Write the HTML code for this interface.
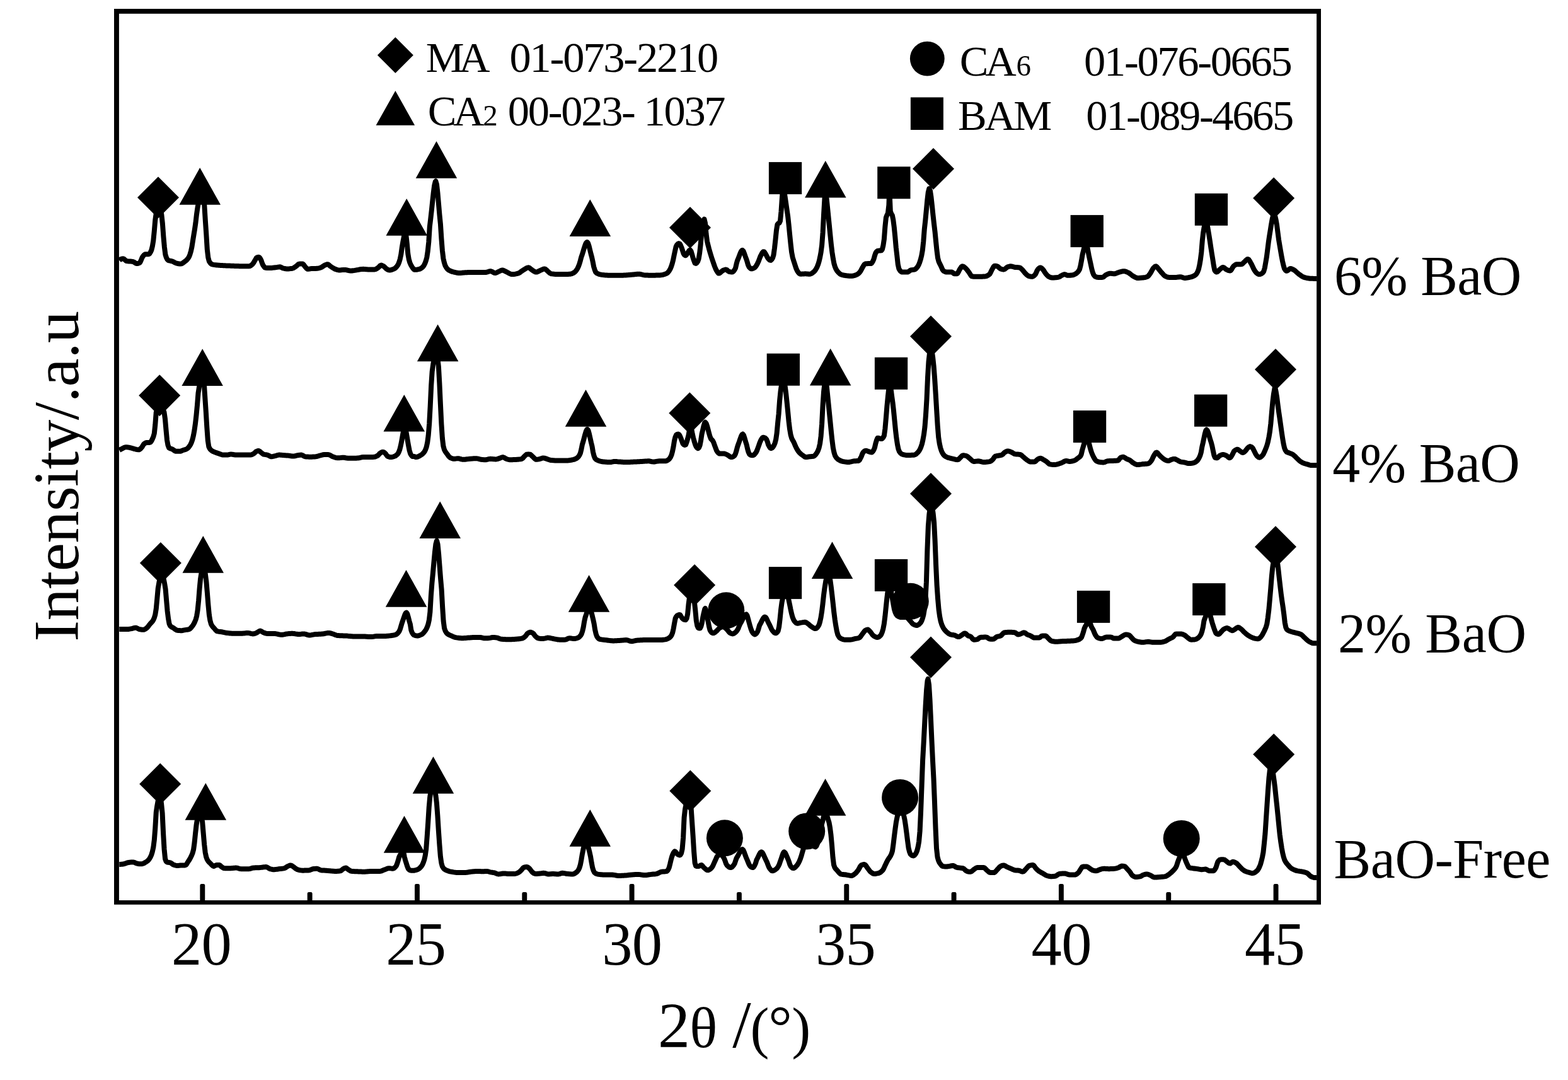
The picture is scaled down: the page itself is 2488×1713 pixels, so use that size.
<!DOCTYPE html>
<html lang="en"><head><meta charset="utf-8"><title>XRD patterns</title>
<style>html,body{margin:0;padding:0;background:#fff}body{width:2488px;height:1713px;overflow:hidden}svg{display:block}</style>
</head><body>
<svg width="2488" height="1713" viewBox="0 0 2488 1713">
<rect x="0" y="0" width="2488" height="1713" fill="#fff"/>
<g fill="none" stroke="#000" stroke-width="8.0" stroke-linejoin="round" stroke-linecap="butt">
<path d="M189.3 413.0L190.8 411.6L192.3 410.8L193.8 410.4L195.3 410.3L196.8 410.8L198.3 412.2L199.8 413.6L201.3 414.1L202.8 414.3L204.3 414.4L205.8 414.5L207.3 414.6L208.8 414.7L210.3 414.9L211.8 415.3L213.3 416.1L214.8 417.2L216.3 418.0L217.8 418.1L219.3 417.8L220.8 417.3L222.3 416.2L223.8 412.9L225.3 409.1L226.8 406.5L228.3 404.7L229.8 403.5L231.3 403.2L232.8 403.2L234.3 403.2L235.8 403.2L237.3 402.4L238.8 400.0L240.3 396.8L241.8 390.8L243.3 381.8L244.8 366.7L246.3 348.9L247.8 338.2L249.3 329.9L250.8 324.6L251.9 323.4L253.4 325.7L254.9 332.0L256.4 341.0L257.9 354.8L259.4 375.2L260.9 391.9L262.4 403.7L263.9 408.5L265.4 411.4L266.9 412.9L268.4 413.4L269.9 413.7L271.4 414.0L272.9 414.3L274.4 414.9L275.9 415.6L277.4 416.5L278.9 417.2L280.4 417.7L281.9 418.0L283.4 418.3L284.9 418.5L286.4 418.5L287.9 418.3L289.4 417.6L290.9 416.6L292.4 415.4L293.9 414.3L295.4 413.1L296.9 411.6L298.4 409.8L299.9 407.4L301.4 403.7L302.9 398.7L304.4 391.8L305.9 382.3L307.4 373.0L308.9 364.0L310.4 353.6L311.9 340.6L313.4 330.1L314.9 321.3L316.4 312.0L317.9 302.6L318.3 299.6L319.8 301.3L321.3 306.4L322.8 314.4L324.3 324.9L325.8 349.4L327.3 371.3L328.8 395.7L330.3 408.6L331.8 414.3L333.3 416.7L334.8 418.3L336.3 419.2L337.8 419.6L339.3 419.9L340.8 420.1L342.3 420.3L343.8 420.5L345.3 420.6L346.8 420.7L348.3 420.8L349.8 420.9L351.3 421.0L352.8 421.1L354.3 421.2L355.8 421.2L357.3 421.3L358.8 421.4L360.3 421.4L361.8 421.5L363.3 421.5L364.8 421.6L366.3 421.7L367.8 421.7L369.3 421.8L370.8 421.8L372.3 421.9L373.8 422.0L375.3 422.0L376.8 422.1L378.3 422.1L379.8 422.2L381.3 422.2L382.8 422.2L384.3 422.3L385.8 422.3L387.3 422.3L388.8 422.3L390.3 422.3L391.8 422.3L393.3 422.3L394.8 422.3L396.3 422.1L397.8 421.4L399.3 420.2L400.8 418.9L402.3 416.9L403.8 414.3L405.3 411.8L406.8 409.1L408.3 408.1L409.8 407.8L411.3 407.9L412.8 409.8L414.3 412.6L415.8 417.0L417.3 420.6L418.8 422.8L420.3 424.4L421.8 424.8L423.3 424.9L424.8 424.9L426.3 425.0L427.8 425.0L429.3 425.0L430.8 424.9L432.3 424.8L433.8 424.6L435.3 424.5L436.8 424.3L438.3 424.1L439.8 423.9L441.3 423.6L442.8 423.4L444.3 423.3L445.8 423.8L447.3 424.6L448.8 425.3L450.3 425.7L451.8 426.0L453.3 426.3L454.8 426.4L456.3 426.4L457.8 426.4L459.3 426.3L460.8 426.1L462.3 426.0L463.8 425.8L465.3 425.3L466.8 424.4L468.3 423.4L469.8 422.3L471.3 421.1L472.8 419.7L474.3 418.7L475.8 418.6L477.3 418.6L478.8 418.6L480.3 418.6L481.8 419.7L483.3 421.9L484.8 423.8L486.3 425.4L487.8 426.7L489.3 426.8L490.8 426.6L492.3 426.3L493.8 426.1L495.3 426.0L496.8 425.9L498.3 425.9L499.8 425.9L501.3 425.9L502.8 425.8L504.3 425.7L505.8 425.4L507.3 425.0L508.8 424.5L510.3 423.9L511.8 422.9L513.3 421.9L514.8 420.9L516.3 420.2L517.8 419.6L519.3 419.2L520.8 419.5L522.3 420.6L523.8 422.0L525.3 423.0L526.8 424.0L528.3 425.0L529.8 425.8L531.3 426.6L532.8 427.1L534.3 427.7L535.8 428.1L537.3 428.4L538.8 428.5L540.3 428.4L541.8 428.2L543.3 428.1L544.8 427.9L546.3 427.9L547.8 427.9L549.3 428.2L550.8 428.5L552.3 428.8L553.8 429.2L555.3 429.4L556.8 429.5L558.3 429.5L559.8 429.3L561.3 429.1L562.8 428.9L564.3 428.6L565.8 428.3L567.3 428.1L568.8 427.8L570.3 427.5L571.8 427.2L573.3 427.0L574.8 426.9L576.3 426.8L577.8 426.9L579.3 427.0L580.8 427.2L582.3 427.3L583.8 427.4L585.3 427.4L586.8 427.5L588.3 427.5L589.8 427.5L591.3 427.5L592.8 427.5L594.3 427.5L595.8 427.1L597.3 426.4L598.8 425.4L600.3 424.4L601.8 422.9L603.3 421.2L604.8 420.6L606.3 421.1L607.8 421.8L609.3 422.7L610.8 424.1L612.3 425.7L613.8 426.8L615.3 427.7L616.8 428.3L618.3 428.5L619.8 428.3L621.3 427.9L622.8 427.4L624.3 426.8L625.8 426.1L627.3 425.1L628.8 423.6L630.3 421.8L631.8 419.5L633.3 415.9L634.8 410.8L636.3 403.6L637.8 392.7L639.3 383.8L640.8 376.2L642.3 365.0L642.8 360.7L644.3 372.8L645.8 386.1L647.3 402.5L648.8 411.4L650.3 416.5L651.8 420.0L653.3 422.6L654.8 424.9L656.3 426.8L657.8 427.8L659.3 427.8L660.8 427.7L662.3 427.5L663.8 427.2L665.3 426.9L666.8 426.4L668.3 425.5L669.8 424.3L671.3 422.8L672.8 420.8L674.3 417.8L675.8 413.7L677.3 408.2L678.8 398.2L680.3 383.6L681.8 359.6L683.3 347.0L684.8 333.6L686.3 319.1L687.8 305.2L689.3 293.9L690.8 288.0L691.4 287.3L692.9 292.3L694.4 305.4L695.9 322.6L697.4 340.1L698.9 355.1L700.4 378.2L701.9 397.4L703.4 409.8L704.9 416.6L706.4 421.2L707.9 423.9L709.4 426.1L710.9 427.6L712.4 428.7L713.9 429.4L715.4 430.1L716.9 430.6L718.4 431.1L719.9 431.5L721.4 431.8L722.9 432.2L724.4 432.5L725.9 432.8L727.4 433.0L728.9 433.0L730.4 433.0L731.9 432.9L733.4 432.7L734.9 432.5L736.4 432.4L737.9 432.3L739.4 432.2L740.9 432.2L742.4 432.1L743.9 432.1L745.4 432.1L746.9 432.1L748.4 432.0L749.9 432.0L751.4 432.0L752.9 432.0L754.4 432.0L755.9 432.0L757.4 432.0L758.9 432.0L760.4 432.0L761.9 432.0L763.4 432.0L764.9 432.0L766.4 432.0L767.9 432.0L769.4 432.0L770.9 432.0L772.4 431.7L773.9 431.2L775.4 430.7L776.9 430.3L778.4 430.1L779.9 430.5L781.4 431.2L782.9 432.1L784.4 432.8L785.9 433.0L787.4 432.7L788.9 432.0L790.4 431.2L791.9 430.5L793.4 429.8L794.9 429.0L796.4 428.5L797.9 428.6L799.4 429.1L800.9 429.8L802.4 430.7L803.9 431.4L805.4 432.1L806.9 433.0L808.4 433.8L809.9 434.5L811.4 435.0L812.9 435.1L814.4 435.0L815.9 434.9L817.4 434.7L818.9 434.4L820.4 434.0L821.9 433.7L823.4 433.1L824.9 432.2L826.4 431.1L827.9 430.0L829.4 428.9L830.9 428.0L832.4 427.1L833.9 426.1L835.4 425.2L836.9 424.6L838.4 424.3L839.9 424.8L841.4 425.9L842.9 427.2L844.4 428.3L845.9 429.3L847.4 430.3L848.9 431.1L850.4 431.6L851.9 431.5L853.4 430.9L854.9 430.1L856.4 429.3L857.9 428.6L859.4 428.0L860.9 427.3L862.4 426.7L863.9 426.4L865.4 426.8L866.9 428.0L868.4 429.6L869.9 430.9L871.4 432.2L872.9 433.5L874.4 434.2L875.9 434.4L877.4 434.6L878.9 434.7L880.4 434.9L881.9 434.9L883.4 435.0L884.9 435.1L886.4 435.1L887.9 435.1L889.4 435.1L890.9 435.1L892.4 435.1L893.9 435.1L895.4 435.0L896.9 435.0L898.4 435.0L899.9 434.9L901.4 434.9L902.9 434.8L904.4 434.7L905.9 434.5L907.4 434.1L908.9 433.4L910.4 432.6L911.9 431.6L913.4 430.2L914.9 428.2L916.4 425.7L917.9 422.6L919.4 418.5L920.9 413.3L922.4 407.6L923.9 403.4L925.4 398.5L926.9 393.5L928.4 388.9L929.9 385.4L931.4 384.0L931.6 384.0L933.1 385.7L934.6 390.3L936.1 396.4L937.6 402.6L939.1 408.1L940.6 415.0L942.1 422.8L943.6 427.7L945.1 431.4L946.6 433.0L948.1 433.9L949.6 434.5L951.1 435.1L952.6 435.4L954.1 435.7L955.6 435.9L957.1 436.1L958.6 436.2L960.1 436.4L961.6 436.5L963.1 436.6L964.6 436.7L966.1 436.7L967.6 436.8L969.1 436.8L970.6 436.8L972.1 436.8L973.6 436.8L975.1 436.8L976.6 436.8L978.1 436.8L979.6 436.8L981.1 436.8L982.6 436.8L984.1 436.8L985.6 436.8L987.1 436.8L988.6 436.7L990.1 436.6L991.6 436.6L993.1 436.5L994.6 436.3L996.1 436.2L997.6 436.1L999.1 436.0L1000.6 435.8L1002.1 435.7L1003.6 435.6L1005.1 435.5L1006.6 435.3L1008.1 435.1L1009.6 435.0L1011.1 434.8L1012.6 434.7L1014.1 434.7L1015.6 434.8L1017.1 435.1L1018.6 435.5L1020.1 435.9L1021.6 436.2L1023.1 436.4L1024.6 436.5L1026.1 436.6L1027.6 436.6L1029.1 436.7L1030.6 436.7L1032.1 436.8L1033.6 436.8L1035.1 436.8L1036.6 436.7L1038.1 436.7L1039.6 436.7L1041.1 436.6L1042.6 436.6L1044.1 436.5L1045.6 436.5L1047.1 436.4L1048.6 436.3L1050.1 436.1L1051.6 435.8L1053.1 435.4L1054.6 435.0L1056.1 434.4L1057.6 433.8L1059.1 432.9L1060.6 431.2L1062.1 429.1L1063.6 426.5L1065.1 422.9L1066.6 418.2L1068.1 412.5L1069.6 405.0L1071.1 398.0L1072.6 391.3L1074.1 388.3L1075.6 386.9L1077.1 386.1L1078.6 386.7L1080.1 389.5L1081.6 393.0L1083.1 397.6L1084.6 402.2L1086.1 404.4L1087.6 405.3L1089.1 404.3L1090.6 402.1L1092.1 399.5L1093.6 397.4L1095.1 396.4L1096.6 398.6L1098.1 403.7L1099.6 409.0L1101.1 413.4L1102.6 417.3L1104.1 418.0L1105.6 416.9L1107.1 414.8L1108.6 410.6L1110.1 401.6L1111.6 388.5L1113.1 371.2L1114.6 357.7L1116.1 350.6L1117.5 347.7L1119.0 354.0L1120.5 370.6L1122.0 382.6L1123.5 388.8L1125.0 394.6L1126.5 399.9L1128.0 404.8L1129.5 409.6L1131.0 414.1L1132.5 418.4L1134.0 422.6L1135.5 426.4L1137.0 429.3L1138.5 431.8L1140.0 433.4L1141.5 433.5L1143.0 432.5L1144.5 431.0L1146.0 429.7L1147.5 428.8L1149.0 428.2L1150.5 427.7L1152.0 427.5L1153.5 428.2L1155.0 429.7L1156.5 430.6L1158.0 431.1L1159.5 431.4L1161.0 431.6L1162.5 431.3L1164.0 430.1L1165.5 428.1L1167.0 425.4L1168.5 418.8L1170.0 413.3L1171.5 409.9L1173.0 405.9L1174.5 401.9L1176.0 398.6L1177.5 396.9L1178.0 396.8L1179.5 398.3L1181.0 402.0L1182.5 406.3L1184.0 410.3L1185.5 414.8L1187.0 420.1L1188.5 423.5L1190.0 425.1L1191.5 426.2L1193.0 426.4L1194.5 426.0L1196.0 425.3L1197.5 424.5L1199.0 423.0L1200.5 420.6L1202.0 417.8L1203.5 414.6L1205.0 410.6L1206.5 406.7L1208.0 403.8L1209.5 401.0L1211.0 399.2L1212.5 399.2L1214.0 401.4L1215.5 404.0L1217.0 406.9L1218.5 409.7L1220.0 411.4L1221.5 412.6L1223.0 412.9L1224.5 411.6L1226.0 409.2L1227.5 404.4L1229.0 393.5L1230.5 379.9L1232.0 365.2L1233.5 356.0L1235.0 354.2L1236.5 353.7L1238.0 350.6L1239.5 335.3L1241.0 313.1L1242.5 293.6L1242.6 292.3L1244.1 301.9L1245.6 311.8L1247.1 322.0L1248.6 332.6L1250.1 342.8L1251.6 356.6L1253.1 372.1L1254.6 387.0L1256.1 400.0L1257.6 407.8L1259.1 413.0L1260.6 417.5L1262.1 422.2L1263.6 426.6L1265.1 429.7L1266.6 431.9L1268.1 433.7L1269.6 434.6L1271.1 434.7L1272.6 434.6L1274.1 434.5L1275.6 434.4L1277.1 434.3L1278.6 434.3L1280.1 434.4L1281.6 434.5L1283.1 434.7L1284.6 434.7L1286.1 434.5L1287.6 433.8L1289.1 432.8L1290.6 431.7L1292.1 430.4L1293.6 428.6L1295.1 426.2L1296.6 423.3L1298.1 419.6L1299.6 414.6L1301.1 408.3L1302.6 400.3L1304.1 389.0L1305.6 369.0L1307.1 339.3L1308.6 313.3L1309.9 298.5L1311.4 313.2L1312.9 328.0L1314.4 343.0L1315.9 358.0L1317.4 373.2L1318.9 387.9L1320.4 400.3L1321.9 410.1L1323.4 418.0L1324.9 423.0L1326.4 426.6L1327.9 429.2L1329.4 431.1L1330.9 432.7L1332.4 434.1L1333.9 435.1L1335.4 435.7L1336.9 436.2L1338.4 436.5L1339.9 436.8L1341.4 437.0L1342.9 437.2L1344.4 437.4L1345.9 437.5L1347.4 437.7L1348.9 437.8L1350.4 437.8L1351.9 437.8L1353.4 437.6L1354.9 437.2L1356.4 436.8L1357.9 436.2L1359.4 435.6L1360.9 434.8L1362.4 433.6L1363.9 432.1L1365.4 430.1L1366.9 427.3L1368.4 424.5L1369.9 421.9L1371.4 419.5L1372.9 418.5L1374.4 418.3L1375.9 418.2L1377.4 418.1L1378.9 418.1L1380.4 418.1L1381.9 418.1L1383.4 417.1L1384.9 414.5L1386.4 411.2L1387.9 405.6L1389.4 401.3L1390.9 399.1L1392.4 397.9L1393.9 397.7L1395.4 397.6L1396.9 397.6L1398.4 397.4L1399.9 395.5L1401.4 389.5L1402.9 379.3L1404.4 359.5L1405.9 345.2L1407.4 341.2L1408.9 338.2L1410.4 325.3L1411.3 299.8L1412.8 335.0L1414.3 339.2L1415.8 341.4L1417.3 348.7L1418.8 360.5L1420.3 375.6L1421.8 392.9L1423.3 405.6L1424.8 419.4L1426.3 426.2L1427.8 428.8L1429.3 430.5L1430.8 431.5L1432.3 431.6L1433.8 431.6L1435.3 431.6L1436.8 431.6L1438.3 431.6L1439.8 431.6L1441.3 431.1L1442.8 430.0L1444.3 428.8L1445.8 428.3L1447.3 428.1L1448.8 427.9L1450.3 427.7L1451.8 427.3L1453.3 426.2L1454.8 424.6L1456.3 422.6L1457.8 419.9L1459.3 416.1L1460.8 411.4L1462.3 405.4L1463.8 397.0L1465.3 382.8L1466.8 363.3L1468.3 349.7L1469.8 333.8L1471.3 317.8L1472.8 305.0L1474.3 299.2L1474.5 299.1L1476.0 302.8L1477.5 312.9L1479.0 326.6L1480.5 341.1L1482.0 354.8L1483.5 367.2L1485.0 382.5L1486.5 397.3L1488.0 409.0L1489.5 414.8L1491.0 418.0L1492.5 420.8L1494.0 424.2L1495.5 427.6L1497.0 429.6L1498.5 430.5L1500.0 431.2L1501.5 431.6L1503.0 431.6L1504.5 431.6L1506.0 431.6L1507.5 431.6L1509.0 431.6L1510.5 431.6L1512.0 432.6L1513.5 433.9L1515.0 434.3L1516.5 434.3L1518.0 434.3L1519.5 433.7L1521.0 430.9L1522.5 427.8L1524.0 425.5L1525.5 423.2L1527.0 422.3L1528.5 422.7L1530.0 423.7L1531.5 424.9L1533.0 426.2L1534.5 428.0L1536.0 430.0L1537.5 431.9L1539.0 434.3L1540.5 436.8L1542.0 438.3L1543.5 438.5L1545.0 438.7L1546.5 438.7L1548.0 438.8L1549.5 438.8L1551.0 438.8L1552.5 438.8L1554.0 438.8L1555.5 438.8L1557.0 438.7L1558.5 438.7L1560.0 438.6L1561.5 438.5L1563.0 438.4L1564.5 438.1L1566.0 437.6L1567.5 436.8L1569.0 435.8L1570.5 434.6L1572.0 431.8L1573.5 428.6L1575.0 425.9L1576.5 423.2L1578.0 421.7L1579.5 421.7L1581.0 422.0L1582.5 422.3L1584.0 423.3L1585.5 424.8L1587.0 426.1L1588.5 426.7L1590.0 427.1L1591.5 427.4L1593.0 427.4L1594.5 426.8L1596.0 425.5L1597.5 424.2L1599.0 423.3L1600.5 422.9L1602.0 422.5L1603.5 422.3L1605.0 422.4L1606.5 422.8L1608.0 423.3L1609.5 423.8L1611.0 424.0L1612.5 424.1L1614.0 424.1L1615.5 424.2L1617.0 424.3L1618.5 424.6L1620.0 425.8L1621.5 427.2L1623.0 428.8L1624.5 430.7L1626.0 432.7L1627.5 434.2L1629.0 435.7L1630.5 436.9L1632.0 437.8L1633.5 438.2L1635.0 438.6L1636.5 438.8L1638.0 438.8L1639.5 438.1L1641.0 437.1L1642.5 435.7L1644.0 433.0L1645.5 429.4L1647.0 427.0L1648.5 425.5L1650.0 424.5L1651.5 424.5L1653.0 425.5L1654.5 427.1L1656.0 428.9L1657.5 431.4L1659.0 433.6L1660.5 435.4L1662.0 437.1L1663.5 438.4L1665.0 439.2L1666.5 439.9L1668.0 440.3L1669.5 440.5L1671.0 440.5L1672.5 440.4L1674.0 440.3L1675.5 440.2L1677.0 440.1L1678.5 439.9L1680.0 439.5L1681.5 438.8L1683.0 437.8L1684.5 437.0L1686.0 436.2L1687.5 435.5L1689.0 435.1L1690.5 435.4L1692.0 436.1L1693.5 436.7L1695.0 436.8L1696.5 436.7L1698.0 436.7L1699.5 436.5L1701.0 436.4L1702.5 436.2L1704.0 435.7L1705.5 435.0L1707.0 434.1L1708.5 433.1L1710.0 431.7L1711.5 429.8L1713.0 427.2L1714.5 421.4L1716.0 413.6L1717.5 404.3L1719.0 398.1L1720.5 391.9L1722.0 385.1L1723.3 379.3L1724.8 388.8L1726.3 397.5L1727.8 405.5L1729.3 412.5L1730.8 419.3L1732.3 426.5L1733.8 432.0L1735.3 435.7L1736.8 437.8L1738.3 438.8L1739.8 439.5L1741.3 439.8L1742.8 439.9L1744.3 439.9L1745.8 439.9L1747.3 439.9L1748.8 439.9L1750.3 439.6L1751.8 438.6L1753.3 437.2L1754.8 436.1L1756.3 435.3L1757.8 434.6L1759.3 434.1L1760.8 433.7L1762.3 433.7L1763.8 433.8L1765.3 434.1L1766.8 434.2L1768.3 434.3L1769.8 434.0L1771.3 433.5L1772.8 432.8L1774.3 432.2L1775.8 431.7L1777.3 431.3L1778.8 430.9L1780.3 430.5L1781.8 430.3L1783.3 430.1L1784.8 430.3L1786.3 430.7L1787.8 431.3L1789.3 432.0L1790.8 432.7L1792.3 433.7L1793.8 434.8L1795.3 436.0L1796.8 437.2L1798.3 438.1L1799.8 438.9L1801.3 439.8L1802.8 440.4L1804.3 440.9L1805.8 440.9L1807.3 440.9L1808.8 440.8L1810.3 440.7L1811.8 440.6L1813.3 440.5L1814.8 440.3L1816.3 440.1L1817.8 439.8L1819.3 439.3L1820.8 438.8L1822.3 437.5L1823.8 435.6L1825.3 433.4L1826.8 430.9L1828.3 428.0L1829.8 425.5L1831.3 424.0L1832.8 422.7L1834.3 422.3L1835.8 423.4L1837.3 425.3L1838.8 427.1L1840.3 428.9L1841.8 430.8L1843.3 432.5L1844.8 434.2L1846.3 435.9L1847.8 437.3L1849.3 438.2L1850.8 438.9L1852.3 439.5L1853.8 439.8L1855.3 439.9L1856.8 439.9L1858.3 439.9L1859.8 439.9L1861.3 439.9L1862.8 439.9L1864.3 439.9L1865.8 439.9L1867.3 439.8L1868.8 439.6L1870.3 439.5L1871.8 439.3L1873.3 439.3L1874.8 439.5L1876.3 440.0L1877.8 440.6L1879.3 440.9L1880.8 440.9L1882.3 440.8L1883.8 440.6L1885.3 440.3L1886.8 440.0L1888.3 439.7L1889.8 439.3L1891.3 438.9L1892.8 438.4L1894.3 437.7L1895.8 436.8L1897.3 435.7L1898.8 433.9L1900.3 431.1L1901.8 427.3L1903.3 420.7L1904.8 412.0L1906.3 399.9L1907.8 381.4L1909.3 368.3L1910.8 359.3L1912.3 351.4L1913.8 345.2L1913.8 345.1L1915.3 354.5L1916.8 363.7L1918.3 372.6L1919.8 382.1L1921.3 392.3L1922.8 402.0L1924.3 411.1L1925.8 421.0L1927.3 428.6L1928.8 430.7L1930.3 431.6L1931.8 431.0L1933.3 429.6L1934.8 428.1L1936.3 426.8L1937.8 425.5L1939.3 424.4L1940.8 423.9L1942.3 424.6L1943.8 425.9L1945.3 427.1L1946.8 427.9L1948.3 428.6L1949.8 429.1L1951.3 429.5L1952.8 429.2L1954.3 427.2L1955.8 424.4L1957.3 422.3L1958.8 421.0L1960.3 419.9L1961.8 419.2L1963.3 419.2L1964.8 419.2L1966.3 419.2L1967.8 419.2L1969.3 419.2L1970.8 418.8L1972.3 417.6L1973.8 416.0L1975.3 414.7L1976.8 413.1L1978.3 411.7L1979.8 410.9L1981.3 411.6L1982.8 413.7L1984.3 416.5L1985.8 419.1L1987.3 422.2L1988.8 425.5L1990.3 428.3L1991.8 430.6L1993.3 432.5L1994.8 433.7L1996.3 434.6L1997.8 435.1L1999.3 435.0L2000.8 434.5L2002.3 433.7L2003.8 432.5L2005.3 430.2L2006.8 425.0L2008.3 416.4L2009.8 407.8L2011.3 395.9L2012.8 383.9L2014.3 373.8L2015.8 364.6L2017.3 355.2L2018.8 347.0L2020.3 341.2L2021.5 337.7L2023.0 342.0L2024.5 348.1L2026.0 356.8L2027.5 368.6L2029.0 380.1L2030.5 389.1L2032.0 397.9L2033.5 406.5L2035.0 414.3L2036.5 420.9L2038.0 426.1L2039.5 428.4L2041.0 429.7L2042.5 429.5L2044.0 428.4L2045.5 427.1L2047.0 426.1L2048.5 426.1L2050.0 426.6L2051.5 427.3L2053.0 428.1L2054.5 429.1L2056.0 430.4L2057.5 431.8L2059.0 433.2L2060.5 434.4L2062.0 435.5L2063.5 436.6L2065.0 437.7L2066.5 438.7L2068.0 439.4L2069.5 439.9L2071.0 440.4L2072.5 440.7L2074.0 441.1L2075.5 441.3L2077.0 441.5L2078.5 441.7L2080.0 441.7L2081.5 441.8L2083.0 441.8L2084.5 441.9L2086.0 441.9L2087.5 441.9L2089.0 441.9L2089.1 441.9"/>
<path d="M189.3 713.9L190.8 713.1L192.3 712.3L193.8 711.6L195.3 710.8L196.8 710.0L198.3 709.4L199.8 709.2L201.3 709.3L202.8 709.4L204.3 709.7L205.8 710.0L207.3 710.3L208.8 710.7L210.3 711.2L211.8 711.6L213.3 712.1L214.8 712.4L216.3 712.8L217.8 713.1L219.3 713.3L220.8 713.3L222.3 712.4L223.8 710.9L225.3 709.2L226.8 706.6L228.3 704.3L229.8 703.2L231.3 702.3L232.8 701.9L234.3 701.9L235.8 701.9L237.3 701.9L238.8 701.5L240.3 699.4L241.8 696.4L243.3 692.9L244.8 687.5L246.3 673.5L247.8 653.9L249.3 650.2L250.8 646.9L252.3 641.7L253.8 635.4L254.5 632.0L256.0 638.6L257.5 644.6L259.0 650.0L260.5 654.0L262.0 664.6L263.5 681.8L265.0 697.9L266.5 706.2L268.0 710.2L269.5 711.1L271.0 711.6L272.5 712.0L274.0 712.8L275.5 713.8L277.0 714.9L278.5 715.7L280.0 715.8L281.5 715.8L283.0 715.8L284.5 715.8L286.0 715.8L287.5 715.4L289.0 714.7L290.5 714.0L292.0 713.6L293.5 713.2L295.0 712.7L296.5 712.0L298.0 710.8L299.5 709.2L301.0 707.2L302.5 704.7L304.0 701.3L305.5 696.9L307.0 690.5L308.5 682.3L310.0 671.6L311.5 658.5L313.0 642.7L314.5 623.7L316.0 614.0L317.5 606.0L319.0 598.8L320.5 592.6L320.8 591.6L322.3 596.1L323.8 607.7L325.3 630.4L326.8 653.2L328.3 677.8L329.8 698.7L331.3 708.5L332.8 711.6L334.3 713.5L335.8 714.7L337.3 715.6L338.8 716.4L340.3 717.0L341.8 717.6L343.3 718.1L344.8 718.6L346.3 719.1L347.8 719.6L349.3 720.2L350.8 720.8L352.3 721.3L353.8 721.6L355.3 721.6L356.8 721.6L358.3 721.6L359.8 721.6L361.3 721.5L362.8 721.2L364.3 720.8L365.8 720.6L367.3 720.6L368.8 720.8L370.3 721.0L371.8 721.3L373.3 721.5L374.8 721.6L376.3 721.6L377.8 721.6L379.3 721.6L380.8 721.6L382.3 721.6L383.8 721.6L385.3 721.6L386.8 721.6L388.3 721.6L389.8 721.6L391.3 721.6L392.8 721.6L394.3 721.6L395.8 721.6L397.3 721.6L398.8 721.4L400.3 720.8L401.8 720.0L403.3 719.0L404.8 717.6L406.3 716.2L407.8 715.6L409.3 715.1L410.8 715.1L412.3 716.0L413.8 717.3L415.3 718.5L416.8 719.8L418.3 720.6L419.8 720.9L421.3 721.1L422.8 721.3L424.3 721.6L425.8 722.2L427.3 723.0L428.8 723.9L430.3 724.3L431.8 724.2L433.3 723.9L434.8 723.5L436.3 723.2L437.8 722.8L439.3 722.3L440.8 721.9L442.3 721.6L443.8 721.6L445.3 721.7L446.8 721.8L448.3 721.9L449.8 722.1L451.3 722.2L452.8 722.3L454.3 722.4L455.8 722.5L457.3 722.6L458.8 722.8L460.3 723.0L461.8 723.3L463.3 723.5L464.8 723.6L466.3 723.6L467.8 723.4L469.3 722.9L470.8 722.5L472.3 722.2L473.8 722.0L475.3 721.8L476.8 721.6L478.3 721.6L479.8 722.0L481.3 722.9L482.8 723.8L484.3 724.3L485.8 724.4L487.3 724.5L488.8 724.6L490.3 724.7L491.8 724.7L493.3 724.7L494.8 724.7L496.3 724.6L497.8 724.5L499.3 724.4L500.8 724.3L502.3 724.1L503.8 723.7L505.3 723.2L506.8 722.7L508.3 722.4L509.8 722.0L511.3 721.6L512.8 721.2L514.3 721.0L515.8 721.0L517.3 721.0L518.8 721.0L520.3 721.1L521.8 721.2L523.3 721.7L524.8 722.5L526.3 723.5L527.8 724.3L529.3 724.8L530.8 725.3L532.3 725.8L533.8 726.1L535.3 726.3L536.8 726.3L538.3 726.3L539.8 726.1L541.3 725.9L542.8 725.8L544.3 725.7L545.8 725.8L547.3 726.0L548.8 726.3L550.3 726.6L551.8 726.7L553.3 726.8L554.8 726.8L556.3 726.8L557.8 726.8L559.3 726.8L560.8 726.8L562.3 726.8L563.8 726.8L565.3 726.7L566.8 726.6L568.3 726.5L569.8 726.3L571.3 726.0L572.8 725.6L574.3 725.2L575.8 725.1L577.3 725.1L578.8 725.1L580.3 725.1L581.8 725.1L583.3 725.1L584.8 725.1L586.3 725.1L587.8 725.1L589.3 725.0L590.8 725.0L592.3 724.9L593.8 724.7L595.3 724.5L596.8 723.9L598.3 723.2L599.8 722.3L601.3 720.7L602.8 719.0L604.3 718.0L605.8 717.2L607.3 716.8L608.8 717.2L610.3 718.2L611.8 719.6L613.3 721.8L614.8 723.6L616.3 724.3L617.8 724.8L619.3 725.1L620.8 725.1L622.3 724.9L623.8 724.5L625.3 724.0L626.8 723.4L628.3 722.6L629.8 721.3L631.3 719.7L632.8 717.0L634.3 713.0L635.8 707.0L637.3 699.4L638.8 691.0L640.3 682.7L641.8 674.5L642.2 672.4L643.7 680.9L645.2 689.5L646.7 698.3L648.2 707.1L649.7 714.6L651.2 719.7L652.7 722.2L654.2 723.9L655.7 724.0L657.2 723.9L658.7 724.6L660.2 725.1L661.7 724.9L663.2 724.4L664.7 723.7L666.2 722.8L667.7 722.0L669.2 721.0L670.7 719.7L672.2 718.2L673.7 716.1L675.2 713.1L676.7 708.9L678.2 701.9L679.7 690.5L681.2 672.0L682.7 644.2L684.2 611.8L685.7 589.2L687.2 578.2L688.7 569.3L690.2 561.8L691.4 557.5L692.9 560.7L694.4 569.0L695.9 581.6L697.4 608.5L698.9 641.2L700.4 672.4L701.9 695.1L703.4 707.4L704.9 713.0L706.4 716.0L707.9 718.1L709.4 720.1L710.9 722.3L712.4 724.2L713.9 725.6L715.4 726.4L716.9 727.0L718.4 727.5L719.9 727.8L721.4 727.8L722.9 727.6L724.4 727.4L725.9 727.2L727.4 727.2L728.9 727.5L730.4 727.9L731.9 728.4L733.4 728.7L734.9 728.8L736.4 728.8L737.9 728.7L739.4 728.5L740.9 728.3L742.4 728.1L743.9 727.9L745.4 727.8L746.9 727.7L748.4 727.6L749.9 727.4L751.4 727.3L752.9 727.3L754.4 727.2L755.9 727.2L757.4 727.4L758.9 727.7L760.4 728.1L761.9 728.5L763.4 728.8L764.9 728.9L766.4 729.1L767.9 729.2L769.4 729.3L770.9 729.2L772.4 729.0L773.9 728.6L775.4 728.2L776.9 727.9L778.4 727.8L779.9 727.9L781.4 728.0L782.9 728.2L784.4 728.3L785.9 728.4L787.4 728.4L788.9 728.1L790.4 727.6L791.9 727.1L793.4 726.6L794.9 726.0L796.4 725.4L797.9 725.1L799.4 725.5L800.9 726.4L802.4 727.4L803.9 728.0L805.4 728.5L806.9 728.9L808.4 729.2L809.9 729.3L811.4 729.2L812.9 729.2L814.4 729.1L815.9 729.1L817.4 729.0L818.9 728.9L820.4 728.8L821.9 728.7L823.4 728.6L824.9 728.4L826.4 728.2L827.9 727.8L829.4 726.9L830.9 725.1L832.4 723.5L833.9 722.0L835.4 720.8L836.9 720.6L838.4 720.6L839.9 720.6L841.4 720.8L842.9 721.9L844.4 723.5L845.9 724.9L847.4 726.4L848.9 727.9L850.4 728.8L851.9 728.8L853.4 728.6L854.9 728.3L856.4 728.0L857.9 727.6L859.4 727.0L860.9 726.5L862.4 726.4L863.9 726.6L865.4 727.1L866.9 727.6L868.4 728.1L869.9 728.8L871.4 729.3L872.9 729.8L874.4 730.0L875.9 730.1L877.4 730.2L878.9 730.3L880.4 730.4L881.9 730.4L883.4 730.5L884.9 730.5L886.4 730.5L887.9 730.5L889.4 730.5L890.9 730.5L892.4 730.5L893.9 730.5L895.4 730.5L896.9 730.5L898.4 730.5L899.9 730.5L901.4 730.4L902.9 730.2L904.4 730.0L905.9 729.8L907.4 729.5L908.9 729.2L910.4 728.9L911.9 728.4L913.4 727.7L914.9 726.9L916.4 725.8L917.9 724.2L919.4 722.0L920.9 718.8L922.4 712.7L923.9 705.0L925.4 700.2L926.9 694.6L928.4 688.8L929.9 683.9L931.4 681.1L932.0 680.8L933.5 682.9L935.0 688.4L936.5 695.2L938.0 701.9L939.5 707.9L941.0 717.0L942.5 723.0L944.0 726.8L945.5 728.4L947.0 729.5L948.5 730.2L950.0 730.8L951.5 731.3L953.0 731.7L954.5 732.0L956.0 732.3L957.5 732.5L959.0 732.6L960.5 732.7L962.0 732.8L963.5 732.9L965.0 732.9L966.5 733.0L968.0 733.0L969.5 733.0L971.0 732.7L972.5 732.3L974.0 732.0L975.5 732.0L977.0 732.0L978.5 732.1L980.0 732.3L981.5 732.4L983.0 732.6L984.5 732.6L986.0 732.7L987.5 732.8L989.0 732.9L990.5 732.9L992.0 733.0L993.5 733.0L995.0 733.0L996.5 733.0L998.0 732.9L999.5 732.9L1001.0 732.8L1002.5 732.7L1004.0 732.7L1005.5 732.6L1007.0 732.5L1008.5 732.5L1010.0 732.4L1011.5 732.3L1013.0 732.2L1014.5 732.2L1016.0 732.1L1017.5 732.0L1019.0 731.9L1020.5 731.8L1022.0 731.7L1023.5 731.6L1025.0 731.5L1026.5 731.4L1028.0 731.3L1029.5 731.3L1031.0 731.5L1032.5 731.8L1034.0 732.2L1035.5 732.4L1037.0 732.6L1038.5 732.5L1040.0 732.2L1041.5 731.9L1043.0 731.6L1044.5 731.4L1046.0 731.3L1047.5 731.3L1049.0 731.3L1050.5 731.3L1052.0 731.3L1053.5 731.3L1055.0 731.3L1056.5 731.3L1058.0 730.8L1059.5 729.9L1061.0 728.8L1062.5 727.3L1064.0 725.0L1065.5 721.7L1067.0 716.1L1068.5 708.9L1070.0 699.3L1071.5 693.3L1073.0 689.9L1074.5 688.9L1076.0 688.5L1077.5 689.1L1079.0 691.8L1080.5 695.3L1082.0 699.5L1083.5 703.6L1085.0 705.1L1086.5 705.9L1088.0 705.5L1089.5 701.5L1091.0 696.5L1092.5 690.5L1094.0 681.9L1095.5 670.1L1095.6 669.3L1097.1 679.6L1098.6 687.9L1100.1 694.5L1101.6 700.0L1103.1 704.9L1104.6 708.3L1106.1 710.3L1107.6 711.2L1109.1 709.9L1110.6 706.3L1112.1 698.4L1113.6 688.3L1115.1 682.1L1116.6 675.5L1118.1 670.7L1119.0 669.8L1120.5 671.4L1122.0 675.6L1123.5 681.1L1125.0 686.9L1126.5 692.3L1128.0 695.9L1129.5 697.5L1131.0 699.2L1132.5 702.3L1134.0 706.7L1135.5 710.7L1137.0 714.6L1138.5 717.0L1140.0 718.6L1141.5 719.5L1143.0 719.5L1144.5 719.5L1146.0 719.5L1147.5 719.5L1149.0 719.5L1150.5 719.8L1152.0 720.5L1153.5 721.2L1155.0 722.0L1156.5 723.1L1158.0 724.2L1159.5 725.0L1161.0 725.1L1162.5 724.7L1164.0 723.9L1165.5 722.7L1167.0 719.8L1168.5 715.0L1170.0 709.0L1171.5 704.6L1173.0 700.5L1174.5 696.1L1176.0 692.0L1177.5 689.2L1178.6 688.5L1180.1 690.4L1181.6 695.1L1183.1 700.5L1184.6 705.2L1186.1 711.8L1187.6 717.1L1189.1 720.3L1190.6 721.7L1192.1 722.0L1193.6 722.2L1195.1 722.1L1196.6 721.2L1198.1 719.6L1199.6 717.6L1201.1 714.6L1202.6 710.5L1204.1 706.4L1205.6 702.0L1207.1 698.6L1208.6 696.0L1210.1 694.1L1211.6 693.7L1213.1 694.2L1214.6 695.2L1216.1 696.6L1217.6 700.2L1219.1 705.4L1220.6 708.2L1222.1 710.4L1223.6 711.2L1225.1 710.5L1226.6 708.8L1228.1 706.4L1229.6 703.0L1231.1 697.3L1232.6 687.2L1234.1 670.9L1235.6 656.3L1237.1 635.4L1238.6 620.5L1240.1 609.9L1241.6 601.2L1242.6 596.8L1244.1 603.2L1245.6 612.1L1247.1 623.3L1248.6 637.6L1250.1 652.7L1251.6 668.5L1253.1 680.9L1254.6 689.6L1256.1 694.9L1257.6 698.0L1259.1 700.6L1260.6 703.7L1262.1 707.4L1263.6 710.6L1265.1 713.2L1266.6 715.5L1268.1 717.4L1269.6 719.0L1271.1 720.3L1272.6 721.5L1274.1 722.5L1275.6 723.6L1277.1 724.7L1278.6 725.1L1280.1 725.0L1281.6 724.8L1283.1 724.5L1284.6 724.3L1286.1 724.2L1287.6 724.0L1289.1 723.9L1290.6 723.7L1292.1 723.1L1293.6 721.7L1295.1 719.8L1296.6 717.6L1298.1 714.5L1299.6 710.2L1301.1 703.5L1302.6 691.9L1304.1 672.3L1305.6 642.6L1307.1 620.6L1308.6 607.8L1309.9 594.7L1311.4 609.3L1312.9 624.2L1314.4 639.2L1315.9 654.2L1317.4 669.2L1318.9 684.5L1320.4 698.6L1321.9 710.2L1323.4 717.5L1324.9 722.4L1326.4 725.0L1327.9 726.9L1329.4 728.3L1330.9 729.3L1332.4 730.1L1333.9 730.9L1335.4 731.4L1336.9 731.8L1338.4 732.1L1339.9 732.4L1341.4 732.6L1342.9 732.8L1344.4 732.9L1345.9 733.0L1347.4 733.0L1348.9 732.7L1350.4 732.4L1351.9 732.0L1353.4 731.6L1354.9 731.3L1356.4 731.2L1357.9 731.2L1359.4 731.1L1360.9 731.0L1362.4 730.9L1363.9 729.5L1365.4 726.7L1366.9 723.7L1368.4 719.6L1369.9 717.1L1371.4 715.7L1372.9 714.9L1374.4 714.8L1375.9 715.3L1377.4 715.9L1378.9 716.4L1380.4 716.9L1381.9 717.3L1383.4 717.4L1384.9 716.1L1386.4 713.7L1387.9 710.0L1389.4 703.4L1390.9 698.4L1392.4 694.8L1393.9 694.8L1395.4 695.3L1396.9 695.8L1398.4 696.1L1399.9 695.6L1401.4 693.9L1402.9 690.9L1404.4 680.2L1405.9 662.8L1407.4 644.7L1408.9 629.0L1410.4 615.5L1411.9 603.7L1412.0 603.0L1413.5 615.7L1415.0 627.7L1416.5 638.5L1418.0 651.8L1419.5 667.2L1421.0 682.5L1422.5 695.2L1424.0 705.1L1425.5 712.4L1427.0 716.2L1428.5 718.3L1430.0 719.7L1431.5 720.5L1433.0 721.0L1434.5 721.3L1436.0 721.6L1437.5 721.9L1439.0 722.0L1440.5 722.0L1442.0 722.0L1443.5 722.0L1445.0 721.9L1446.5 721.8L1448.0 721.8L1449.5 721.7L1451.0 721.5L1452.5 720.8L1454.0 719.8L1455.5 718.4L1457.0 716.9L1458.5 714.9L1460.0 712.1L1461.5 708.6L1463.0 704.0L1464.5 697.4L1466.0 688.9L1467.5 677.0L1469.0 657.9L1470.5 633.5L1472.0 598.8L1473.5 573.7L1475.0 560.2L1476.5 551.5L1477.2 550.2L1478.7 556.7L1480.2 567.3L1481.7 581.7L1483.2 601.4L1484.7 625.3L1486.2 650.4L1487.7 675.0L1489.2 693.6L1490.7 703.5L1492.2 710.1L1493.7 714.9L1495.2 718.2L1496.7 720.6L1498.2 722.4L1499.7 723.6L1501.2 724.5L1502.7 725.2L1504.2 725.8L1505.7 726.2L1507.2 726.6L1508.7 727.0L1510.2 727.3L1511.7 727.7L1513.2 728.0L1514.7 728.4L1516.2 728.8L1517.7 729.1L1519.2 729.2L1520.7 728.9L1522.2 727.4L1523.7 725.8L1525.2 724.3L1526.7 722.7L1528.2 722.2L1529.7 722.3L1531.2 722.6L1532.7 722.9L1534.2 723.5L1535.7 724.6L1537.2 725.9L1538.7 727.1L1540.2 728.5L1541.7 730.0L1543.2 731.2L1544.7 731.9L1546.2 731.9L1547.7 731.8L1549.2 731.6L1550.7 731.4L1552.2 731.3L1553.7 731.4L1555.2 731.8L1556.7 732.2L1558.2 732.6L1559.7 732.9L1561.2 733.0L1562.7 732.9L1564.2 732.9L1565.7 732.7L1567.2 732.6L1568.7 732.4L1570.2 732.1L1571.7 731.7L1573.2 730.7L1574.7 729.3L1576.2 727.6L1577.7 725.3L1579.2 723.7L1580.7 723.3L1582.2 723.0L1583.7 722.8L1585.2 722.5L1586.7 722.3L1588.2 722.0L1589.7 721.6L1591.2 720.5L1592.7 718.8L1594.2 717.5L1595.7 716.6L1597.2 715.8L1598.7 715.4L1600.2 715.5L1601.7 715.9L1603.2 716.5L1604.7 717.1L1606.2 717.9L1607.7 718.9L1609.2 719.8L1610.7 720.2L1612.2 720.4L1613.7 720.5L1615.2 720.6L1616.7 720.7L1618.2 720.9L1619.7 721.4L1621.2 722.4L1622.7 723.8L1624.2 725.2L1625.7 726.4L1627.2 727.7L1628.7 728.9L1630.2 730.0L1631.7 731.0L1633.2 732.0L1634.7 732.5L1636.2 732.6L1637.7 732.6L1639.2 732.6L1640.7 732.6L1642.2 732.4L1643.7 731.2L1645.2 729.6L1646.7 728.4L1648.2 727.6L1649.7 726.9L1651.2 726.8L1652.7 727.3L1654.2 728.2L1655.7 729.1L1657.2 730.0L1658.7 730.9L1660.2 731.9L1661.7 733.1L1663.2 734.6L1664.7 735.9L1666.2 736.3L1667.7 736.6L1669.2 736.9L1670.7 737.1L1672.2 737.1L1673.7 737.1L1675.2 736.9L1676.7 736.6L1678.2 736.2L1679.7 735.8L1681.2 735.3L1682.7 734.8L1684.2 734.2L1685.7 733.5L1687.2 732.7L1688.7 731.8L1690.2 731.1L1691.7 730.9L1693.2 731.2L1694.7 731.5L1696.2 731.9L1697.7 731.9L1699.2 731.8L1700.7 731.6L1702.2 731.2L1703.7 730.8L1705.2 730.3L1706.7 729.5L1708.2 728.4L1709.7 727.2L1711.2 726.1L1712.7 725.0L1714.2 723.6L1715.7 720.6L1717.2 714.0L1718.7 708.8L1720.2 703.7L1721.7 697.8L1723.2 691.3L1724.3 686.3L1725.8 693.5L1727.3 700.3L1728.8 706.5L1730.3 712.3L1731.8 717.1L1733.3 720.9L1734.8 724.1L1736.3 726.8L1737.8 729.2L1739.3 731.0L1740.8 731.8L1742.3 732.4L1743.8 732.8L1745.3 733.0L1746.8 733.2L1748.3 733.3L1749.8 733.4L1751.3 733.4L1752.8 733.1L1754.3 732.4L1755.8 731.8L1757.3 731.3L1758.8 731.2L1760.3 731.1L1761.8 731.1L1763.3 731.0L1764.8 731.0L1766.3 730.9L1767.8 730.8L1769.3 730.8L1770.8 730.7L1772.3 730.6L1773.8 730.5L1775.3 729.4L1776.8 727.1L1778.3 725.7L1779.8 725.1L1781.3 724.8L1782.8 724.8L1784.3 725.5L1785.8 726.7L1787.3 727.7L1788.8 728.4L1790.3 728.9L1791.8 729.5L1793.3 730.3L1794.8 731.5L1796.3 732.9L1797.8 734.0L1799.3 734.9L1800.8 735.8L1802.3 736.5L1803.8 737.0L1805.3 737.1L1806.8 737.0L1808.3 736.8L1809.8 736.6L1811.3 736.4L1812.8 736.1L1814.3 736.0L1815.8 735.9L1817.3 735.8L1818.8 735.8L1820.3 735.6L1821.8 735.4L1823.3 734.7L1824.8 733.3L1826.3 731.5L1827.8 729.3L1829.3 725.9L1830.8 722.9L1832.3 720.4L1833.8 718.2L1835.3 717.5L1836.8 718.6L1838.3 720.5L1839.8 722.1L1841.3 723.6L1842.8 725.0L1844.3 726.3L1845.8 727.5L1847.3 728.6L1848.8 729.5L1850.3 730.1L1851.8 730.6L1853.3 730.9L1854.8 730.7L1856.3 730.1L1857.8 729.3L1859.3 728.7L1860.8 728.2L1862.3 727.9L1863.8 727.9L1865.3 728.4L1866.8 729.2L1868.3 729.9L1869.8 730.8L1871.3 731.7L1872.8 732.4L1874.3 732.7L1875.8 732.9L1877.3 733.1L1878.8 733.3L1880.3 733.6L1881.8 734.0L1883.3 734.6L1884.8 735.0L1886.3 735.1L1887.8 735.0L1889.3 734.9L1890.8 734.8L1892.3 734.6L1893.8 734.2L1895.3 733.7L1896.8 732.9L1898.3 731.9L1899.8 730.5L1901.3 728.5L1902.8 725.9L1904.3 722.6L1905.8 717.6L1907.3 708.8L1908.8 702.4L1910.3 695.2L1911.8 688.1L1913.3 682.9L1914.4 681.6L1915.9 683.1L1917.4 687.0L1918.9 692.2L1920.4 697.5L1921.9 702.1L1923.4 707.8L1924.9 715.3L1926.4 722.2L1927.9 725.8L1929.4 726.2L1930.9 726.4L1932.4 725.6L1933.9 724.0L1935.4 722.7L1936.9 722.0L1938.4 721.4L1939.9 721.0L1941.4 721.0L1942.9 721.4L1944.4 722.0L1945.9 722.6L1947.4 723.7L1948.9 725.2L1950.4 726.2L1951.9 726.0L1953.4 724.4L1954.9 722.0L1956.4 719.1L1957.9 715.9L1959.4 714.5L1960.9 713.5L1962.4 712.8L1963.9 712.7L1965.4 713.6L1966.9 714.9L1968.4 716.0L1969.9 717.2L1971.4 718.0L1972.9 717.8L1974.4 716.7L1975.9 715.4L1977.4 713.6L1978.9 711.5L1980.4 709.9L1981.9 708.8L1983.4 708.1L1984.9 708.5L1986.4 709.4L1987.9 711.0L1989.4 714.0L1990.9 717.0L1992.4 720.1L1993.9 722.4L1995.4 724.0L1996.9 725.3L1998.4 725.7L1999.9 725.2L2001.4 724.1L2002.9 722.7L2004.4 720.7L2005.9 717.6L2007.4 714.1L2008.9 710.5L2010.4 706.2L2011.9 700.7L2013.4 693.5L2014.9 684.5L2016.4 671.7L2017.9 654.1L2019.4 637.6L2020.9 625.3L2022.4 616.6L2023.0 613.9L2024.5 620.3L2026.0 629.3L2027.5 641.4L2029.0 652.8L2030.5 662.8L2032.0 673.5L2033.5 684.3L2035.0 694.4L2036.5 703.3L2038.0 710.2L2039.5 714.1L2041.0 716.3L2042.5 717.3L2044.0 717.9L2045.5 718.4L2047.0 719.0L2048.5 719.5L2050.0 720.1L2051.5 721.0L2053.0 722.2L2054.5 723.5L2056.0 724.9L2057.5 726.5L2059.0 728.0L2060.5 729.4L2062.0 730.8L2063.5 732.0L2065.0 732.9L2066.5 733.8L2068.0 734.5L2069.5 735.0L2071.0 735.5L2072.5 735.9L2074.0 736.3L2075.5 736.7L2077.0 737.3L2078.5 737.7L2080.0 738.0L2081.5 738.0L2083.0 738.0L2084.5 738.0L2086.0 738.0L2087.5 738.0L2089.0 738.0L2089.1 738.0"/>
<path d="M189.3 998.1L190.8 998.1L192.3 998.1L193.8 998.1L195.3 998.1L196.8 998.1L198.3 998.1L199.8 998.1L201.3 998.1L202.8 998.0L204.3 997.9L205.8 997.6L207.3 997.4L208.8 997.1L210.3 996.8L211.8 996.3L213.3 995.9L214.8 995.7L216.3 995.8L217.8 996.5L219.3 997.3L220.8 998.0L222.3 998.3L223.8 998.5L225.3 998.7L226.8 998.7L228.3 998.7L229.8 998.1L231.3 997.2L232.8 996.1L234.3 994.6L235.8 992.7L237.3 990.7L238.8 988.9L240.3 987.4L241.8 985.7L243.3 983.4L244.8 979.9L246.3 974.8L247.8 965.5L249.3 949.7L250.8 932.9L252.3 924.4L253.8 916.9L255.3 910.3L256.6 905.4L258.1 911.1L259.6 917.9L261.1 925.4L262.6 934.3L264.1 952.1L265.6 969.2L267.1 981.2L268.6 989.6L270.1 992.7L271.6 994.1L273.1 994.9L274.6 995.7L276.1 996.7L277.6 997.8L279.1 998.8L280.6 999.6L282.1 999.9L283.6 1000.0L285.1 1000.1L286.6 1000.2L288.1 1000.2L289.6 1000.0L291.1 999.7L292.6 999.4L294.1 999.1L295.6 998.9L297.1 998.7L298.6 998.5L300.1 998.1L301.6 997.2L303.1 995.7L304.6 993.8L306.1 991.8L307.6 989.4L309.1 986.4L310.6 982.6L312.1 977.2L313.6 967.9L315.1 952.9L316.6 933.6L318.1 918.0L319.6 908.3L321.1 900.8L322.6 897.3L322.9 897.2L324.4 901.9L325.9 911.0L327.4 922.7L328.9 940.5L330.4 959.3L331.9 975.1L333.4 984.3L334.9 989.8L336.4 992.5L337.9 994.4L339.4 996.0L340.9 997.8L342.4 999.6L343.9 1000.9L345.4 1001.4L346.9 1001.7L348.4 1001.9L349.9 1002.0L351.4 1002.2L352.9 1002.5L354.4 1002.8L355.9 1003.1L357.4 1003.5L358.9 1003.8L360.4 1004.0L361.9 1004.1L363.4 1004.3L364.9 1004.5L366.4 1004.6L367.9 1004.7L369.4 1004.7L370.9 1004.8L372.4 1004.8L373.9 1004.8L375.4 1004.8L376.9 1004.8L378.4 1004.8L379.9 1004.8L381.4 1004.8L382.9 1004.8L384.4 1004.7L385.9 1004.6L387.4 1004.4L388.9 1004.3L390.4 1004.1L391.9 1004.0L393.4 1003.9L394.9 1004.1L396.4 1004.4L397.9 1004.8L399.4 1005.1L400.9 1005.4L402.4 1005.3L403.9 1005.0L405.4 1004.5L406.9 1003.9L408.4 1003.0L409.9 1002.0L411.4 1001.0L412.9 1000.6L414.4 1001.0L415.9 1002.0L417.4 1003.0L418.9 1003.6L420.4 1004.1L421.9 1004.6L423.4 1004.9L424.9 1005.0L426.4 1005.0L427.9 1005.0L429.4 1005.0L430.9 1005.0L432.4 1005.0L433.9 1005.0L435.4 1005.0L436.9 1005.1L438.4 1005.4L439.9 1005.7L441.4 1006.0L442.9 1006.3L444.4 1006.6L445.9 1006.8L447.4 1006.8L448.9 1006.7L450.4 1006.4L451.9 1006.1L453.4 1005.7L454.9 1005.4L456.4 1005.3L457.9 1005.1L459.4 1005.0L460.9 1004.9L462.4 1004.8L463.9 1004.8L465.4 1004.9L466.9 1005.0L468.4 1005.3L469.9 1005.6L471.4 1005.8L472.9 1006.0L474.4 1006.0L475.9 1005.9L477.4 1005.8L478.9 1005.6L480.4 1005.5L481.9 1005.4L483.4 1005.5L484.9 1005.9L486.4 1006.4L487.9 1006.9L489.4 1007.3L490.9 1007.5L492.4 1007.4L493.9 1007.2L495.4 1006.9L496.9 1006.6L498.4 1006.3L499.9 1006.1L501.4 1006.0L502.9 1005.9L504.4 1005.9L505.9 1005.8L507.4 1005.8L508.9 1005.7L510.4 1005.6L511.9 1005.5L513.4 1005.3L514.9 1005.0L516.4 1004.7L517.9 1004.4L519.4 1004.1L520.9 1004.0L522.4 1004.0L523.9 1004.2L525.4 1004.6L526.9 1005.1L528.4 1005.5L529.9 1006.1L531.4 1006.7L532.9 1007.3L534.4 1007.8L535.9 1008.1L537.4 1008.1L538.9 1008.2L540.4 1008.3L541.9 1008.3L543.4 1008.3L544.9 1008.4L546.4 1008.4L547.9 1008.5L549.4 1008.5L550.9 1008.6L552.4 1008.8L553.9 1008.9L555.4 1009.0L556.9 1009.2L558.4 1009.3L559.9 1009.4L561.4 1009.5L562.9 1009.5L564.4 1009.5L565.9 1009.5L567.4 1009.5L568.9 1009.5L570.4 1009.5L571.9 1009.5L573.4 1009.5L574.9 1009.5L576.4 1009.5L577.9 1009.5L579.4 1009.6L580.9 1009.7L582.4 1009.8L583.9 1009.9L585.4 1010.0L586.9 1010.1L588.4 1010.1L589.9 1010.1L591.4 1009.9L592.9 1009.7L594.4 1009.4L595.9 1009.1L597.4 1008.9L598.9 1008.9L600.4 1008.9L601.9 1008.9L603.4 1008.9L604.9 1008.9L606.4 1008.9L607.9 1008.9L609.4 1008.9L610.9 1008.9L612.4 1008.9L613.9 1008.8L615.4 1008.7L616.9 1008.6L618.4 1008.4L619.9 1008.2L621.4 1008.0L622.9 1007.8L624.4 1007.6L625.9 1007.2L627.4 1006.8L628.9 1006.2L630.4 1005.1L631.9 1003.5L633.4 1001.4L634.9 998.0L636.4 992.8L637.9 987.9L639.4 983.7L640.9 979.2L642.4 975.0L643.9 972.2L644.9 971.6L646.4 973.8L647.9 979.1L649.4 985.0L650.9 990.2L652.4 999.6L653.9 1003.5L655.4 1005.9L656.9 1007.3L658.4 1007.8L659.9 1008.2L661.4 1008.4L662.9 1008.5L664.4 1008.2L665.9 1007.7L667.4 1007.0L668.9 1006.3L670.4 1005.3L671.9 1003.9L673.4 1002.2L674.9 1000.2L676.4 997.7L677.9 994.5L679.4 990.1L680.9 983.4L682.4 970.7L683.9 944.7L685.4 925.0L686.9 909.3L688.4 892.4L689.9 876.0L691.4 863.4L692.9 857.9L693.1 857.7L694.6 863.6L696.1 878.9L697.6 898.3L699.1 917.7L700.6 934.5L702.1 962.2L703.6 985.1L705.1 996.5L706.6 1000.8L708.1 1003.3L709.6 1005.0L711.1 1006.1L712.6 1006.9L714.1 1007.6L715.6 1008.2L717.1 1008.9L718.6 1009.6L720.1 1010.2L721.6 1010.8L723.1 1011.1L724.6 1011.4L726.1 1011.6L727.6 1011.8L729.1 1012.0L730.6 1012.1L732.1 1012.2L733.6 1012.2L735.1 1012.2L736.6 1012.1L738.1 1012.0L739.6 1011.9L741.1 1011.7L742.6 1011.6L744.1 1011.5L745.6 1011.4L747.1 1011.3L748.6 1011.2L750.1 1011.1L751.6 1011.0L753.1 1011.0L754.6 1011.0L756.1 1011.0L757.6 1011.0L759.1 1011.0L760.6 1011.0L762.1 1011.0L763.6 1011.2L765.1 1011.6L766.6 1012.0L768.1 1012.2L769.6 1012.2L771.1 1012.2L772.6 1012.2L774.1 1012.2L775.6 1012.1L777.1 1011.9L778.6 1011.6L780.1 1011.2L781.6 1011.0L783.1 1011.0L784.6 1011.1L786.1 1011.2L787.6 1011.4L789.1 1011.7L790.6 1012.1L792.1 1012.8L793.6 1013.4L795.1 1013.7L796.6 1013.8L798.1 1013.9L799.6 1014.0L801.1 1014.1L802.6 1014.2L804.1 1014.2L805.6 1014.3L807.1 1014.3L808.6 1014.3L810.1 1014.2L811.6 1014.2L813.1 1014.1L814.6 1014.0L816.1 1013.9L817.6 1013.8L819.1 1013.7L820.6 1013.6L822.1 1013.5L823.6 1013.3L825.1 1013.2L826.6 1012.9L828.1 1012.6L829.6 1012.1L831.1 1011.2L832.6 1010.1L834.1 1008.7L835.6 1006.5L837.1 1004.6L838.6 1003.7L840.1 1003.0L841.6 1002.7L843.1 1003.0L844.6 1003.7L846.1 1004.6L847.6 1006.5L849.1 1008.7L850.6 1010.1L852.1 1011.3L853.6 1012.2L855.1 1012.6L856.6 1012.8L858.1 1012.9L859.6 1013.0L861.1 1013.0L862.6 1012.9L864.1 1012.6L865.6 1012.3L867.1 1011.9L868.6 1011.6L870.1 1011.6L871.6 1011.8L873.1 1012.0L874.6 1012.4L876.1 1012.7L877.6 1013.0L879.1 1013.3L880.6 1013.6L882.1 1013.9L883.6 1014.2L885.1 1014.5L886.6 1014.6L888.1 1014.7L889.6 1014.7L891.1 1014.7L892.6 1014.7L894.1 1014.7L895.6 1014.7L897.1 1014.6L898.6 1014.2L900.1 1013.4L901.6 1012.7L903.1 1012.3L904.6 1012.3L906.1 1012.4L907.6 1012.7L909.1 1012.9L910.6 1013.0L912.1 1013.0L913.6 1012.7L915.1 1012.3L916.6 1011.8L918.1 1011.1L919.6 1009.9L921.1 1008.2L922.6 1005.9L924.1 1001.5L925.6 995.3L927.1 986.0L928.6 979.1L930.1 974.8L931.6 970.1L933.1 965.0L934.6 959.7L935.1 957.6L936.6 963.6L938.1 969.8L939.6 976.0L941.1 982.1L942.6 989.2L944.1 998.6L945.6 1005.2L947.1 1009.5L948.6 1011.6L950.1 1013.1L951.6 1013.8L953.1 1014.1L954.6 1014.4L956.1 1014.6L957.6 1014.8L959.1 1014.9L960.6 1015.1L962.1 1015.3L963.6 1015.5L965.1 1015.7L966.6 1015.9L968.1 1016.1L969.6 1016.2L971.1 1016.3L972.6 1016.4L974.1 1016.4L975.6 1016.3L977.1 1016.3L978.6 1016.2L980.1 1016.1L981.6 1016.0L983.1 1015.9L984.6 1015.8L986.1 1015.7L987.6 1015.6L989.1 1015.4L990.6 1015.3L992.1 1015.2L993.6 1015.1L995.1 1015.3L996.6 1015.7L998.1 1016.2L999.6 1016.8L1001.1 1017.1L1002.6 1017.2L1004.1 1017.0L1005.6 1016.7L1007.1 1016.3L1008.6 1016.0L1010.1 1015.8L1011.6 1015.6L1013.1 1015.5L1014.6 1015.4L1016.1 1015.3L1017.6 1015.2L1019.1 1015.2L1020.6 1015.1L1022.1 1015.1L1023.6 1015.1L1025.1 1015.1L1026.6 1015.1L1028.1 1015.1L1029.6 1015.1L1031.1 1015.1L1032.6 1015.1L1034.1 1015.1L1035.6 1015.1L1037.1 1015.1L1038.6 1015.1L1040.1 1015.1L1041.6 1015.1L1043.1 1015.1L1044.6 1015.1L1046.1 1015.1L1047.6 1015.1L1049.1 1015.1L1050.6 1015.0L1052.1 1014.8L1053.6 1014.6L1055.1 1014.4L1056.6 1014.1L1058.1 1013.7L1059.6 1013.0L1061.1 1012.2L1062.6 1011.2L1064.1 1009.7L1065.6 1007.5L1067.1 1003.8L1068.6 997.3L1070.1 988.8L1071.6 980.9L1073.1 977.9L1074.6 976.3L1076.1 975.5L1077.6 975.0L1079.1 975.2L1080.6 977.6L1082.1 980.0L1083.6 981.7L1085.1 982.7L1086.6 983.1L1088.1 983.2L1089.6 980.8L1091.1 973.8L1092.6 958.0L1094.1 946.7L1095.6 937.9L1097.1 931.7L1097.3 931.3L1098.8 938.7L1100.3 946.6L1101.8 954.5L1103.3 967.9L1104.8 984.3L1106.3 992.5L1107.8 995.9L1109.3 996.4L1110.8 996.5L1112.3 993.7L1113.8 987.9L1115.3 978.9L1116.8 971.9L1118.3 965.9L1119.0 965.0L1120.5 969.1L1122.0 977.6L1123.5 985.3L1125.0 993.2L1126.5 999.4L1128.0 1001.8L1129.5 1003.5L1131.0 1004.3L1132.5 1004.1L1134.0 1003.3L1135.5 1002.1L1137.0 1000.9L1138.5 999.3L1140.0 997.6L1141.5 996.2L1143.0 995.4L1144.5 994.6L1146.0 994.1L1147.5 994.0L1149.0 994.7L1150.5 995.8L1152.0 997.1L1153.5 998.4L1155.0 1000.2L1156.5 1002.2L1158.0 1003.7L1159.5 1004.5L1161.0 1005.1L1162.5 1005.4L1164.0 1005.0L1165.5 1004.1L1167.0 1003.0L1168.5 1001.5L1170.0 999.4L1171.5 996.7L1173.0 992.7L1174.5 989.3L1176.0 986.9L1177.5 984.0L1179.0 981.0L1180.5 978.1L1182.0 975.8L1183.5 974.5L1184.2 974.3L1185.7 976.7L1187.2 982.1L1188.7 987.7L1190.2 993.2L1191.7 998.1L1193.2 1001.8L1194.7 1004.0L1196.2 1005.7L1197.7 1006.4L1199.2 1005.7L1200.7 1004.0L1202.2 1001.5L1203.7 996.9L1205.2 991.6L1206.7 989.1L1208.2 986.1L1209.7 983.0L1211.2 980.4L1212.7 978.8L1213.6 978.5L1215.1 979.4L1216.6 981.9L1218.1 985.2L1219.6 988.4L1221.1 991.2L1222.6 994.4L1224.1 997.7L1225.6 1000.2L1227.1 1001.9L1228.6 1003.4L1230.1 1004.2L1231.6 1004.2L1233.1 1003.0L1234.6 1000.8L1236.1 994.4L1237.6 982.0L1239.1 966.8L1240.6 955.6L1242.1 947.9L1243.6 941.3L1245.1 936.0L1246.6 932.7L1247.0 932.4L1248.5 938.4L1250.0 944.8L1251.5 951.5L1253.0 958.7L1254.5 966.3L1256.0 973.1L1257.5 978.7L1259.0 982.5L1260.5 985.2L1262.0 986.9L1263.5 988.3L1265.0 988.8L1266.5 988.7L1268.0 988.3L1269.5 987.9L1271.0 987.6L1272.5 987.4L1274.0 987.1L1275.5 986.9L1277.0 986.8L1278.5 987.0L1280.0 987.8L1281.5 989.0L1283.0 990.1L1284.5 991.4L1286.0 992.7L1287.5 993.8L1289.0 994.8L1290.5 995.8L1292.0 996.6L1293.5 997.1L1295.0 996.9L1296.5 995.7L1298.0 993.8L1299.5 991.3L1301.0 986.5L1302.5 979.6L1304.0 970.2L1305.5 957.9L1307.0 944.0L1308.5 932.6L1310.0 923.3L1311.5 915.3L1313.0 908.3L1314.3 903.4L1315.8 910.9L1317.3 920.1L1318.8 931.0L1320.3 943.7L1321.8 957.3L1323.3 971.2L1324.8 983.1L1326.3 992.8L1327.8 1001.0L1329.3 1006.6L1330.8 1009.5L1332.3 1011.4L1333.8 1012.5L1335.3 1013.3L1336.8 1013.9L1338.3 1014.4L1339.8 1014.7L1341.3 1014.7L1342.8 1014.7L1344.3 1014.7L1345.8 1014.7L1347.3 1014.7L1348.8 1014.7L1350.3 1014.6L1351.8 1014.4L1353.3 1014.0L1354.8 1013.6L1356.3 1013.2L1357.8 1012.9L1359.3 1012.6L1360.8 1012.4L1362.3 1012.0L1363.8 1011.4L1365.3 1009.9L1366.8 1007.8L1368.3 1005.7L1369.8 1003.7L1371.3 1001.6L1372.8 1000.1L1374.3 999.3L1375.8 998.7L1377.3 998.6L1378.8 999.8L1380.3 1001.5L1381.8 1003.2L1383.3 1005.3L1384.8 1007.3L1386.3 1008.6L1387.8 1009.5L1389.3 1010.2L1390.8 1010.8L1392.3 1011.0L1393.8 1010.6L1395.3 1009.7L1396.8 1008.3L1398.3 1006.3L1399.8 1002.7L1401.3 997.6L1402.8 989.8L1404.3 978.1L1405.8 963.3L1407.3 948.8L1408.8 936.5L1410.3 926.3L1411.4 919.9L1412.9 930.4L1414.4 940.3L1415.9 949.4L1417.4 957.8L1418.9 966.1L1420.4 971.1L1421.9 974.4L1423.4 976.4L1424.9 977.4L1426.4 978.3L1427.9 978.8L1429.4 979.1L1430.9 979.1L1432.4 979.1L1433.9 979.1L1435.4 979.1L1436.9 979.1L1438.4 979.2L1439.9 980.0L1441.4 981.6L1442.9 983.3L1444.4 985.0L1445.9 986.8L1447.4 988.6L1448.9 990.0L1450.4 990.8L1451.9 991.4L1453.4 991.8L1454.9 991.9L1456.4 991.4L1457.9 990.5L1459.4 989.1L1460.9 987.5L1462.4 984.8L1463.9 980.6L1465.4 975.1L1466.9 966.1L1468.4 950.7L1469.9 923.4L1471.4 872.4L1472.9 834.0L1474.4 815.9L1475.9 805.0L1477.4 800.0L1477.6 799.8L1479.1 803.8L1480.6 814.0L1482.1 828.5L1483.6 857.6L1485.1 896.3L1486.6 928.2L1488.1 949.9L1489.6 967.0L1491.1 977.8L1492.6 985.3L1494.1 990.1L1495.6 993.7L1497.1 996.5L1498.6 998.6L1500.1 1000.4L1501.6 1001.9L1503.1 1003.2L1504.6 1004.4L1506.1 1005.5L1507.6 1006.2L1509.1 1006.6L1510.6 1006.9L1512.1 1007.0L1513.6 1007.3L1515.1 1007.7L1516.6 1008.4L1518.1 1009.3L1519.6 1010.0L1521.1 1010.1L1522.6 1009.6L1524.1 1008.6L1525.6 1007.6L1527.1 1006.6L1528.6 1005.4L1530.1 1004.5L1531.6 1004.5L1533.1 1005.6L1534.6 1007.2L1536.1 1008.4L1537.6 1008.9L1539.1 1009.2L1540.6 1010.0L1542.1 1011.8L1543.6 1013.7L1545.1 1014.7L1546.6 1014.7L1548.1 1014.6L1549.6 1014.4L1551.1 1014.0L1552.6 1012.9L1554.1 1011.6L1555.6 1011.0L1557.1 1010.8L1558.6 1010.7L1560.1 1010.7L1561.6 1010.6L1563.1 1010.6L1564.6 1010.6L1566.1 1010.9L1567.6 1011.9L1569.1 1013.0L1570.6 1013.6L1572.1 1013.7L1573.6 1013.7L1575.1 1013.7L1576.6 1013.6L1578.1 1012.8L1579.6 1011.4L1581.1 1010.3L1582.6 1009.7L1584.1 1009.4L1585.6 1009.1L1587.1 1008.7L1588.6 1007.9L1590.1 1006.4L1591.6 1004.7L1593.1 1003.5L1594.6 1003.2L1596.1 1003.0L1597.6 1002.9L1599.1 1002.8L1600.6 1002.7L1602.1 1002.7L1603.6 1002.7L1605.1 1002.8L1606.6 1002.9L1608.1 1003.0L1609.6 1003.2L1611.1 1003.6L1612.6 1004.7L1614.1 1005.9L1615.6 1006.4L1617.1 1006.2L1618.6 1005.7L1620.1 1005.2L1621.6 1004.5L1623.1 1003.7L1624.6 1003.3L1626.1 1003.7L1627.6 1004.7L1629.1 1005.9L1630.6 1006.7L1632.1 1007.3L1633.6 1007.8L1635.1 1008.4L1636.6 1009.3L1638.1 1010.2L1639.6 1011.1L1641.1 1011.6L1642.6 1011.6L1644.1 1011.6L1645.6 1011.6L1647.1 1011.6L1648.6 1011.6L1650.1 1011.0L1651.6 1009.7L1653.1 1008.7L1654.6 1008.5L1656.1 1008.5L1657.6 1008.5L1659.1 1008.5L1660.6 1009.4L1662.1 1011.1L1663.6 1012.6L1665.1 1014.2L1666.6 1015.7L1668.1 1016.7L1669.6 1017.0L1671.1 1017.3L1672.6 1017.5L1674.1 1017.7L1675.6 1017.8L1677.1 1017.8L1678.6 1017.7L1680.1 1017.6L1681.6 1017.5L1683.1 1017.3L1684.6 1017.2L1686.1 1017.1L1687.6 1017.1L1689.1 1017.0L1690.6 1017.0L1692.1 1016.9L1693.6 1016.8L1695.1 1016.8L1696.6 1016.7L1698.1 1016.7L1699.6 1016.6L1701.1 1016.5L1702.6 1016.4L1704.1 1016.3L1705.6 1016.1L1707.1 1015.8L1708.6 1015.4L1710.1 1014.9L1711.6 1014.4L1713.1 1013.6L1714.6 1012.5L1716.1 1010.8L1717.6 1006.9L1719.1 1002.2L1720.6 996.6L1722.1 993.3L1723.6 991.2L1725.1 987.0L1726.6 978.8L1727.4 973.8L1728.9 983.1L1730.4 990.2L1731.9 994.3L1733.4 996.9L1734.9 999.7L1736.4 1003.5L1737.9 1006.7L1739.4 1009.0L1740.9 1010.9L1742.4 1011.8L1743.9 1012.3L1745.4 1012.7L1746.9 1013.0L1748.4 1013.0L1749.9 1012.7L1751.4 1012.0L1752.9 1011.2L1754.4 1010.7L1755.9 1010.6L1757.4 1010.6L1758.9 1010.6L1760.4 1010.6L1761.9 1010.6L1763.4 1010.7L1764.9 1011.4L1766.4 1012.3L1767.9 1012.6L1769.4 1012.6L1770.9 1012.6L1772.4 1012.6L1773.9 1012.6L1775.4 1012.3L1776.9 1011.6L1778.4 1010.6L1779.9 1009.7L1781.4 1008.8L1782.9 1007.8L1784.4 1007.0L1785.9 1006.5L1787.4 1006.5L1788.9 1006.7L1790.4 1007.1L1791.9 1007.6L1793.4 1008.9L1794.9 1010.7L1796.4 1012.3L1797.9 1014.0L1799.4 1015.4L1800.9 1016.2L1802.4 1016.8L1803.9 1017.3L1805.4 1017.7L1806.9 1018.0L1808.4 1018.3L1809.9 1018.5L1811.4 1018.7L1812.9 1018.8L1814.4 1018.8L1815.9 1018.6L1817.4 1018.3L1818.9 1018.1L1820.4 1017.9L1821.9 1017.8L1823.4 1017.9L1824.9 1018.2L1826.4 1018.4L1827.9 1018.7L1829.4 1018.8L1830.9 1018.8L1832.4 1018.8L1833.9 1018.8L1835.4 1018.8L1836.9 1018.8L1838.4 1018.8L1839.9 1018.8L1841.4 1018.8L1842.9 1018.6L1844.4 1018.3L1845.9 1018.0L1847.4 1017.5L1848.9 1017.1L1850.4 1016.4L1851.9 1015.4L1853.4 1014.5L1854.9 1013.6L1856.4 1012.9L1857.9 1012.2L1859.4 1011.5L1860.9 1010.6L1862.4 1009.1L1863.9 1007.1L1865.4 1005.6L1866.9 1005.4L1868.4 1005.4L1869.9 1005.4L1871.4 1005.4L1872.9 1005.4L1874.4 1005.5L1875.9 1005.8L1877.4 1006.4L1878.9 1007.1L1880.4 1007.9L1881.9 1009.1L1883.4 1010.5L1884.9 1011.7L1886.4 1012.8L1887.9 1014.0L1889.4 1014.6L1890.9 1014.7L1892.4 1014.6L1893.9 1014.5L1895.4 1014.4L1896.9 1014.1L1898.4 1013.5L1899.9 1012.6L1901.4 1011.6L1902.9 1010.2L1904.4 1008.2L1905.9 1005.5L1907.4 1000.9L1908.9 994.5L1910.4 984.8L1911.9 980.4L1913.4 976.7L1914.9 971.5L1916.4 965.4L1917.3 961.4L1918.8 968.7L1920.3 975.4L1921.8 981.6L1923.3 987.1L1924.8 992.1L1926.3 996.6L1927.8 1000.5L1929.3 1004.1L1930.8 1005.5L1932.3 1005.9L1933.8 1006.0L1935.3 1004.9L1936.8 1003.1L1938.3 1001.6L1939.8 999.9L1941.3 998.4L1942.8 997.5L1944.3 996.7L1945.8 996.2L1947.3 996.1L1948.8 996.7L1950.3 997.7L1951.8 998.6L1953.3 999.5L1954.8 1000.2L1956.3 1000.0L1957.8 999.1L1959.3 998.2L1960.8 997.1L1962.3 996.0L1963.8 995.1L1965.3 995.1L1966.8 995.9L1968.3 997.0L1969.8 998.2L1971.3 999.6L1972.8 1001.2L1974.3 1002.8L1975.8 1004.1L1977.3 1005.4L1978.8 1006.6L1980.3 1007.6L1981.8 1008.6L1983.3 1009.5L1984.8 1010.3L1986.3 1011.0L1987.8 1011.6L1989.3 1012.2L1990.8 1012.6L1992.3 1012.9L1993.8 1013.1L1995.3 1013.3L1996.8 1013.3L1998.3 1012.5L1999.8 1011.0L2001.3 1009.3L2002.8 1007.2L2004.3 1004.4L2005.8 1001.5L2007.3 998.3L2008.8 994.7L2010.3 989.7L2011.8 979.6L2013.3 967.5L2014.8 950.8L2016.3 933.5L2017.8 914.5L2019.3 899.9L2020.8 890.2L2022.3 882.6L2023.8 877.6L2023.8 877.6L2025.3 882.4L2026.8 890.7L2028.3 902.7L2029.8 916.6L2031.3 929.7L2032.8 942.4L2034.3 953.4L2035.8 963.3L2037.3 974.6L2038.8 987.7L2040.3 995.1L2041.8 998.3L2043.3 999.5L2044.8 1000.4L2046.3 1001.0L2047.8 1001.5L2049.3 1002.0L2050.8 1002.4L2052.3 1002.8L2053.8 1003.2L2055.3 1003.6L2056.8 1004.0L2058.3 1004.3L2059.8 1004.7L2061.3 1005.1L2062.8 1005.6L2064.3 1006.2L2065.8 1007.3L2067.3 1008.7L2068.8 1010.3L2070.3 1011.7L2071.8 1013.1L2073.3 1014.5L2074.8 1015.8L2076.3 1017.0L2077.8 1018.0L2079.3 1018.7L2080.8 1019.4L2082.3 1020.0L2083.8 1020.2L2085.3 1020.2L2086.8 1020.2L2088.3 1020.2L2089.1 1020.2"/>
<path d="M189.3 1370.9L190.8 1370.9L192.3 1370.8L193.8 1370.7L195.3 1370.5L196.8 1370.3L198.3 1369.8L199.8 1369.2L201.3 1368.6L202.8 1368.2L204.3 1368.0L205.8 1367.8L207.3 1367.6L208.8 1367.5L210.3 1367.4L211.8 1367.5L213.3 1367.9L214.8 1368.6L216.3 1369.3L217.8 1369.8L219.3 1370.0L220.8 1370.2L222.3 1370.3L223.8 1370.3L225.3 1370.3L226.8 1369.8L228.3 1369.2L229.8 1368.3L231.3 1367.5L232.8 1366.5L234.3 1365.3L235.8 1363.8L237.3 1361.8L238.8 1359.2L240.3 1355.8L241.8 1351.0L243.3 1344.2L244.8 1332.6L246.3 1313.4L247.8 1288.1L249.3 1278.2L250.8 1269.8L252.3 1261.6L253.1 1257.5L254.6 1264.8L256.1 1274.9L257.6 1289.8L259.1 1321.8L260.6 1347.1L262.1 1362.3L263.6 1366.2L265.1 1367.5L266.6 1367.8L268.1 1367.9L269.6 1368.1L271.1 1368.7L272.6 1369.8L274.1 1370.9L275.6 1371.7L277.1 1372.2L278.6 1372.6L280.1 1372.9L281.6 1373.0L283.1 1372.9L284.6 1372.7L286.1 1372.5L287.6 1372.4L289.1 1372.4L290.6 1372.4L292.1 1372.4L293.6 1372.4L295.1 1371.8L296.6 1369.8L298.1 1367.3L299.6 1365.1L301.1 1362.6L302.6 1359.8L304.1 1356.7L305.6 1353.0L307.1 1347.4L308.6 1336.4L310.1 1321.6L311.6 1308.3L313.1 1298.9L314.6 1291.2L316.1 1285.7L316.7 1284.5L318.2 1287.3L319.7 1294.5L321.2 1304.3L322.7 1321.8L324.2 1339.4L325.7 1352.2L327.2 1359.4L328.7 1363.2L330.2 1365.7L331.7 1367.5L333.2 1368.9L334.7 1370.3L336.2 1372.0L337.7 1373.5L339.2 1374.0L340.7 1373.4L342.2 1372.5L343.7 1372.0L345.2 1372.0L346.7 1372.0L348.2 1372.0L349.7 1373.1L351.2 1374.6L352.7 1375.6L354.2 1376.6L355.7 1377.1L357.2 1377.2L358.7 1377.2L360.2 1377.2L361.7 1377.2L363.2 1377.2L364.7 1377.2L366.2 1377.2L367.7 1377.1L369.2 1377.0L370.7 1376.8L372.2 1376.7L373.7 1376.6L375.2 1376.6L376.7 1376.8L378.2 1377.3L379.7 1377.8L381.2 1378.1L382.7 1378.2L384.2 1378.2L385.7 1378.2L387.2 1378.2L388.7 1378.2L390.2 1378.2L391.7 1378.2L393.2 1378.2L394.7 1378.2L396.2 1378.1L397.7 1377.7L399.2 1377.1L400.7 1376.7L402.2 1376.5L403.7 1376.4L405.2 1376.3L406.7 1376.3L408.2 1376.3L409.7 1376.2L411.2 1376.2L412.7 1376.1L414.2 1375.9L415.7 1375.7L417.2 1375.5L418.7 1375.3L420.2 1375.2L421.7 1375.1L423.2 1375.2L424.7 1376.0L426.2 1377.0L427.7 1377.9L429.2 1378.4L430.7 1378.7L432.2 1379.0L433.7 1379.2L435.2 1379.2L436.7 1379.1L438.2 1378.9L439.7 1378.7L441.2 1378.5L442.7 1378.2L444.2 1378.1L445.7 1377.9L447.2 1377.8L448.7 1377.6L450.2 1377.4L451.7 1377.0L453.2 1376.2L454.7 1375.1L456.2 1374.2L457.7 1373.5L459.2 1372.8L460.7 1372.4L462.2 1372.6L463.7 1373.5L465.2 1374.7L466.7 1375.7L468.2 1376.9L469.7 1378.0L471.2 1378.9L472.7 1379.4L474.2 1379.8L475.7 1380.2L477.2 1380.4L478.7 1380.6L480.2 1380.7L481.7 1380.7L483.2 1380.6L484.7 1380.6L486.2 1380.5L487.7 1380.5L489.2 1380.4L490.7 1380.3L492.2 1379.9L493.7 1379.3L495.2 1378.6L496.7 1378.2L498.2 1378.0L499.7 1377.9L501.2 1377.8L502.7 1377.8L504.2 1378.0L505.7 1378.7L507.2 1379.5L508.7 1380.1L510.2 1380.4L511.7 1380.5L513.2 1380.5L514.7 1380.6L516.2 1380.7L517.7 1380.8L519.2 1380.9L520.7 1381.1L522.2 1381.2L523.7 1381.3L525.2 1381.4L526.7 1381.6L528.2 1381.7L529.7 1381.8L531.2 1381.9L532.7 1381.9L534.2 1381.9L535.7 1381.8L537.2 1381.7L538.7 1381.5L540.2 1381.3L541.7 1380.6L543.2 1379.2L544.7 1378.1L546.2 1377.3L547.7 1376.7L549.2 1376.6L550.7 1377.6L552.2 1378.8L553.7 1379.8L555.2 1380.8L556.7 1381.6L558.2 1381.9L559.7 1382.0L561.2 1382.1L562.7 1382.2L564.2 1382.2L565.7 1382.3L567.2 1382.3L568.7 1382.4L570.2 1382.5L571.7 1382.6L573.2 1382.6L574.7 1382.7L576.2 1382.7L577.7 1382.7L579.2 1382.7L580.7 1382.6L582.2 1382.5L583.7 1382.3L585.2 1382.2L586.7 1382.1L588.2 1382.0L589.7 1381.9L591.2 1381.9L592.7 1381.9L594.2 1381.9L595.7 1381.9L597.2 1381.9L598.7 1381.9L600.2 1381.9L601.7 1381.9L603.2 1381.9L604.7 1381.6L606.2 1381.1L607.7 1380.4L609.2 1379.8L610.7 1379.2L612.2 1378.7L613.7 1378.0L615.2 1377.4L616.7 1377.2L618.2 1377.2L619.7 1377.4L621.2 1377.6L622.7 1377.8L624.2 1377.6L625.7 1376.7L627.2 1375.3L628.7 1373.5L630.2 1369.7L631.7 1365.0L633.2 1359.5L634.7 1356.4L636.2 1354.6L637.7 1348.0L638.7 1338.9L640.2 1350.5L641.7 1358.9L643.2 1364.6L644.7 1369.3L646.2 1374.0L647.7 1377.8L649.2 1379.3L650.7 1380.3L652.2 1380.7L653.7 1380.7L655.2 1380.7L656.7 1380.7L658.2 1380.5L659.7 1380.1L661.2 1379.7L662.7 1379.1L664.2 1378.3L665.7 1377.2L667.2 1375.7L668.7 1374.0L670.2 1371.6L671.7 1368.2L673.2 1363.8L674.7 1357.2L676.2 1346.6L677.7 1326.7L679.2 1304.9L680.7 1280.7L682.2 1264.2L683.7 1253.7L685.2 1245.7L686.7 1242.1L686.9 1242.0L688.4 1244.8L689.9 1251.9L691.4 1261.6L692.9 1274.0L694.4 1294.3L695.9 1318.2L697.4 1339.9L698.9 1358.7L700.4 1369.0L701.9 1374.3L703.4 1376.8L704.9 1378.4L706.4 1379.4L707.9 1380.2L709.4 1380.8L710.9 1381.4L712.4 1381.9L713.9 1382.3L715.4 1382.6L716.9 1382.8L718.4 1383.1L719.9 1383.4L721.4 1383.6L722.9 1383.8L724.4 1383.9L725.9 1384.0L727.4 1384.0L728.9 1384.0L730.4 1384.0L731.9 1384.0L733.4 1384.0L734.9 1384.0L736.4 1384.0L737.9 1384.0L739.4 1383.9L740.9 1383.7L742.4 1383.5L743.9 1383.2L745.4 1383.0L746.9 1382.8L748.4 1382.6L749.9 1382.5L751.4 1382.3L752.9 1382.2L754.4 1382.0L755.9 1382.0L757.4 1381.9L758.9 1381.9L760.4 1382.0L761.9 1382.1L763.4 1382.2L764.9 1382.3L766.4 1382.3L767.9 1382.2L769.4 1382.1L770.9 1382.0L772.4 1381.9L773.9 1382.1L775.4 1382.5L776.9 1383.0L778.4 1383.4L779.9 1383.6L781.4 1383.8L782.9 1384.1L784.4 1384.3L785.9 1384.8L787.4 1385.5L788.9 1386.1L790.4 1386.4L791.9 1386.4L793.4 1386.2L794.9 1386.0L796.4 1385.7L797.9 1385.5L799.4 1385.4L800.9 1385.5L802.4 1385.6L803.9 1385.8L805.4 1386.0L806.9 1386.0L808.4 1386.1L809.9 1386.1L811.4 1386.1L812.9 1386.1L814.4 1386.1L815.9 1386.1L817.4 1385.9L818.9 1385.5L820.4 1385.0L821.9 1384.4L823.4 1383.5L824.9 1382.3L826.4 1380.9L827.9 1379.3L829.4 1377.3L830.9 1375.8L832.4 1375.5L833.9 1375.2L835.4 1375.1L836.9 1375.2L838.4 1376.1L839.9 1377.5L841.4 1379.2L842.9 1381.3L844.4 1383.1L845.9 1384.3L847.4 1385.3L848.9 1385.9L850.4 1386.1L851.9 1386.0L853.4 1385.8L854.9 1385.7L856.4 1385.5L857.9 1385.4L859.4 1385.2L860.9 1385.0L862.4 1384.8L863.9 1384.9L865.4 1385.2L866.9 1385.8L868.4 1386.3L869.9 1386.5L871.4 1386.4L872.9 1386.3L874.4 1386.2L875.9 1386.1L877.4 1386.1L878.9 1386.1L880.4 1386.2L881.9 1386.3L883.4 1386.4L884.9 1386.4L886.4 1386.5L887.9 1386.1L889.4 1385.6L890.9 1385.0L892.4 1384.8L893.9 1384.9L895.4 1385.1L896.9 1385.4L898.4 1385.8L899.9 1386.0L901.4 1386.1L902.9 1386.2L904.4 1386.3L905.9 1386.4L907.4 1386.5L908.9 1386.5L910.4 1386.2L911.9 1385.4L913.4 1384.4L914.9 1383.3L916.4 1381.8L917.9 1379.7L919.4 1376.5L920.9 1371.5L922.4 1363.7L923.9 1354.7L925.4 1347.4L926.9 1340.4L928.4 1333.9L929.6 1329.0L931.1 1334.5L932.6 1340.2L934.1 1346.1L935.6 1352.0L937.1 1358.8L938.6 1368.1L940.1 1375.9L941.6 1380.8L943.1 1383.8L944.6 1385.1L946.1 1385.8L947.6 1386.4L949.1 1386.7L950.6 1386.9L952.1 1387.1L953.6 1387.2L955.1 1387.3L956.6 1387.4L958.1 1387.5L959.6 1387.5L961.1 1387.5L962.6 1387.5L964.1 1387.5L965.6 1387.5L967.1 1387.5L968.6 1387.5L970.1 1387.5L971.6 1387.5L973.1 1387.7L974.6 1387.9L976.1 1388.2L977.6 1388.5L979.1 1388.8L980.6 1388.9L982.1 1389.0L983.6 1388.9L985.1 1388.9L986.6 1388.8L988.1 1388.7L989.6 1388.7L991.1 1388.6L992.6 1388.5L994.1 1388.4L995.6 1388.2L997.1 1388.0L998.6 1387.8L1000.1 1387.7L1001.6 1387.5L1003.1 1387.4L1004.6 1387.3L1006.1 1387.2L1007.6 1387.1L1009.1 1387.0L1010.6 1386.9L1012.1 1386.9L1013.6 1386.9L1015.1 1387.1L1016.6 1387.3L1018.1 1387.6L1019.6 1387.8L1021.1 1388.0L1022.6 1388.1L1024.1 1388.1L1025.6 1388.0L1027.1 1387.8L1028.6 1387.5L1030.1 1387.3L1031.6 1387.1L1033.1 1386.9L1034.6 1386.7L1036.1 1386.6L1037.6 1386.5L1039.1 1386.4L1040.6 1386.2L1042.1 1385.9L1043.6 1385.4L1045.1 1384.6L1046.6 1383.9L1048.1 1383.2L1049.6 1382.8L1051.1 1382.6L1052.6 1382.5L1054.1 1382.4L1055.6 1382.3L1057.1 1382.1L1058.6 1381.6L1060.1 1379.6L1061.6 1376.4L1063.1 1370.7L1064.6 1364.3L1066.1 1358.7L1067.6 1354.8L1069.1 1351.9L1070.6 1350.3L1072.1 1351.2L1073.6 1353.3L1075.1 1354.8L1076.6 1355.8L1078.1 1356.4L1079.6 1355.9L1081.1 1353.2L1082.6 1346.6L1084.1 1329.0L1085.6 1296.5L1087.1 1283.3L1088.6 1275.8L1090.1 1268.9L1091.6 1263.3L1092.1 1261.7L1093.6 1265.4L1095.1 1272.6L1096.6 1281.5L1098.1 1303.7L1099.6 1326.1L1101.1 1350.6L1102.6 1368.6L1104.1 1373.7L1105.6 1374.0L1107.1 1374.0L1108.6 1374.0L1110.1 1373.5L1111.6 1372.4L1113.1 1372.0L1114.6 1373.3L1116.1 1375.3L1117.6 1376.7L1119.1 1378.0L1120.6 1379.3L1122.1 1380.1L1123.6 1380.2L1125.1 1379.7L1126.6 1378.7L1128.1 1377.4L1129.6 1375.8L1131.1 1373.4L1132.6 1370.0L1134.1 1366.6L1135.6 1363.3L1137.1 1359.8L1138.6 1357.5L1140.1 1356.6L1141.6 1355.9L1143.1 1355.5L1144.6 1355.6L1146.1 1357.0L1147.6 1359.3L1149.1 1361.8L1150.6 1365.6L1152.1 1370.0L1153.6 1372.5L1155.1 1373.9L1156.6 1375.1L1158.1 1375.9L1159.6 1376.1L1161.1 1375.5L1162.6 1374.1L1164.1 1372.2L1165.6 1369.9L1167.1 1365.4L1168.6 1361.1L1170.1 1358.7L1171.6 1356.0L1173.1 1353.1L1174.6 1350.3L1176.1 1348.2L1177.6 1347.2L1178.0 1347.1L1179.5 1348.5L1181.0 1352.1L1182.5 1356.3L1184.0 1360.2L1185.5 1363.8L1187.0 1367.4L1188.5 1371.0L1190.0 1373.6L1191.5 1374.9L1193.0 1375.7L1194.5 1376.1L1196.0 1375.1L1197.5 1372.5L1199.0 1369.1L1200.5 1363.9L1202.0 1361.1L1203.5 1358.0L1205.0 1354.8L1206.5 1352.3L1208.0 1351.3L1208.0 1351.3L1209.5 1352.2L1211.0 1354.6L1212.5 1357.9L1214.0 1361.3L1215.5 1364.4L1217.0 1367.5L1218.5 1371.6L1220.0 1375.4L1221.5 1377.7L1223.0 1379.6L1224.5 1381.0L1226.0 1381.3L1227.5 1380.9L1229.0 1380.2L1230.5 1379.2L1232.0 1378.0L1233.5 1376.4L1235.0 1374.0L1236.5 1371.0L1238.0 1366.5L1239.5 1362.4L1241.0 1357.8L1242.5 1353.5L1244.0 1351.3L1244.3 1351.3L1245.8 1352.5L1247.3 1355.5L1248.8 1359.2L1250.3 1362.6L1251.8 1366.5L1253.3 1371.2L1254.8 1374.2L1256.3 1375.8L1257.8 1376.9L1259.3 1377.1L1260.8 1376.4L1262.3 1375.1L1263.8 1373.4L1265.3 1371.6L1266.8 1369.2L1268.3 1366.2L1269.8 1362.6L1271.3 1358.3L1272.8 1353.0L1274.3 1347.9L1275.8 1342.8L1277.3 1339.0L1278.8 1337.2L1280.3 1335.7L1281.8 1334.8L1283.3 1334.8L1284.8 1335.8L1286.3 1337.3L1287.8 1339.0L1289.3 1340.3L1290.8 1341.6L1292.3 1342.8L1293.8 1343.4L1295.3 1342.2L1296.8 1338.7L1298.3 1334.2L1299.8 1327.4L1301.3 1318.9L1302.8 1311.8L1304.3 1306.0L1305.8 1300.2L1307.3 1293.1L1308.8 1284.7L1309.5 1280.3L1311.0 1288.1L1312.5 1294.7L1314.0 1299.7L1315.5 1304.5L1317.0 1312.7L1318.5 1324.3L1320.0 1340.5L1321.5 1359.5L1323.0 1371.6L1324.5 1376.0L1326.0 1378.1L1327.5 1379.6L1329.0 1381.3L1330.5 1383.2L1332.0 1384.9L1333.5 1386.1L1335.0 1386.6L1336.5 1386.9L1338.0 1387.0L1339.5 1387.2L1341.0 1387.3L1342.5 1387.5L1344.0 1387.8L1345.5 1388.1L1347.0 1388.4L1348.5 1388.7L1350.0 1388.9L1351.5 1388.9L1353.0 1388.4L1354.5 1387.5L1356.0 1386.3L1357.5 1385.1L1359.0 1383.6L1360.5 1381.7L1362.0 1379.6L1363.5 1377.1L1365.0 1374.1L1366.5 1372.4L1368.0 1371.7L1369.5 1371.2L1371.0 1371.0L1372.5 1371.3L1374.0 1373.0L1375.5 1375.3L1377.0 1377.4L1378.5 1379.4L1380.0 1381.4L1381.5 1383.0L1383.0 1384.1L1384.5 1385.1L1386.0 1385.9L1387.5 1386.1L1389.0 1386.0L1390.5 1385.7L1392.0 1385.4L1393.5 1385.1L1395.0 1384.6L1396.5 1383.9L1398.0 1382.8L1399.5 1381.4L1401.0 1379.8L1402.5 1377.0L1404.0 1373.6L1405.5 1370.5L1407.0 1367.3L1408.5 1364.4L1410.0 1362.0L1411.5 1360.0L1413.0 1357.6L1414.5 1354.4L1416.0 1349.8L1417.5 1339.0L1419.0 1326.2L1420.5 1314.5L1422.0 1303.7L1423.5 1296.2L1425.0 1289.9L1426.5 1284.4L1428.0 1280.4L1429.5 1278.3L1429.6 1278.3L1431.1 1281.7L1432.6 1286.8L1434.1 1293.3L1435.6 1300.5L1437.1 1310.3L1438.6 1321.7L1440.1 1333.7L1441.6 1345.0L1443.1 1351.0L1444.6 1354.7L1446.1 1356.2L1447.6 1357.1L1449.1 1357.5L1450.6 1356.9L1452.1 1355.3L1453.6 1353.0L1455.1 1349.4L1456.6 1343.6L1458.1 1335.1L1459.6 1318.5L1461.1 1286.5L1462.6 1245.6L1464.1 1205.7L1465.6 1178.6L1467.1 1149.4L1468.6 1119.8L1470.1 1094.7L1471.6 1079.7L1472.5 1076.9L1474.0 1085.8L1475.5 1109.7L1477.0 1141.8L1478.5 1175.4L1480.0 1206.6L1481.5 1235.2L1483.0 1272.6L1484.5 1313.0L1486.0 1345.5L1487.5 1359.1L1489.0 1364.7L1490.5 1368.0L1492.0 1370.2L1493.5 1372.2L1495.0 1373.7L1496.5 1374.1L1498.0 1374.3L1499.5 1374.4L1501.0 1374.4L1502.5 1374.5L1504.0 1374.3L1505.5 1374.1L1507.0 1373.8L1508.5 1373.5L1510.0 1373.2L1511.5 1373.0L1513.0 1373.1L1514.5 1373.8L1516.0 1374.9L1517.5 1375.7L1519.0 1376.0L1520.5 1376.2L1522.0 1376.4L1523.5 1376.6L1525.0 1376.8L1526.5 1376.9L1528.0 1377.2L1529.5 1378.0L1531.0 1379.5L1532.5 1380.9L1534.0 1381.7L1535.5 1382.4L1537.0 1382.7L1538.5 1382.7L1540.0 1382.7L1541.5 1382.2L1543.0 1381.1L1544.5 1379.7L1546.0 1378.7L1547.5 1377.5L1549.0 1376.5L1550.5 1376.1L1552.0 1376.1L1553.5 1376.1L1555.0 1376.1L1556.5 1376.1L1558.0 1376.1L1559.5 1376.1L1561.0 1376.1L1562.5 1376.9L1564.0 1378.4L1565.5 1379.9L1567.0 1381.2L1568.5 1382.6L1570.0 1383.7L1571.5 1384.0L1573.0 1384.0L1574.5 1384.0L1576.0 1384.0L1577.5 1384.0L1579.0 1383.1L1580.5 1381.5L1582.0 1379.7L1583.5 1378.2L1585.0 1376.4L1586.5 1374.9L1588.0 1373.9L1589.5 1373.1L1591.0 1372.6L1592.5 1372.4L1594.0 1372.8L1595.5 1373.6L1597.0 1374.6L1598.5 1375.3L1600.0 1376.0L1601.5 1376.6L1603.0 1377.3L1604.5 1377.9L1606.0 1378.6L1607.5 1379.3L1609.0 1379.9L1610.5 1380.3L1612.0 1380.4L1613.5 1380.5L1615.0 1380.5L1616.5 1380.7L1618.0 1381.0L1619.5 1381.7L1621.0 1382.3L1622.5 1382.7L1624.0 1382.4L1625.5 1381.0L1627.0 1379.3L1628.5 1377.7L1630.0 1376.0L1631.5 1374.2L1633.0 1373.1L1634.5 1372.6L1636.0 1372.3L1637.5 1372.1L1639.0 1372.0L1640.5 1372.9L1642.0 1375.0L1643.5 1377.1L1645.0 1378.6L1646.5 1380.1L1648.0 1381.4L1649.5 1382.4L1651.0 1383.3L1652.5 1384.1L1654.0 1384.9L1655.5 1385.8L1657.0 1386.7L1658.5 1387.7L1660.0 1388.5L1661.5 1389.0L1663.0 1389.4L1664.5 1389.8L1666.0 1390.0L1667.5 1390.2L1669.0 1390.2L1670.5 1390.1L1672.0 1390.0L1673.5 1389.8L1675.0 1389.5L1676.5 1388.7L1678.0 1387.6L1679.5 1386.6L1681.0 1386.0L1682.5 1385.8L1684.0 1385.7L1685.5 1385.6L1687.0 1385.5L1688.5 1385.4L1690.0 1385.5L1691.5 1385.8L1693.0 1386.4L1694.5 1386.9L1696.0 1387.3L1697.5 1387.5L1699.0 1387.5L1700.5 1387.5L1702.0 1387.5L1703.5 1387.5L1705.0 1387.5L1706.5 1387.4L1708.0 1386.7L1709.5 1385.6L1711.0 1384.3L1712.5 1382.3L1714.0 1379.7L1715.5 1377.5L1717.0 1375.2L1718.5 1374.5L1720.0 1374.5L1721.5 1374.5L1723.0 1374.5L1724.5 1374.5L1726.0 1375.1L1727.5 1376.2L1729.0 1377.4L1730.5 1378.4L1732.0 1379.4L1733.5 1380.3L1735.0 1380.7L1736.5 1381.0L1738.0 1381.2L1739.5 1381.3L1741.0 1381.1L1742.5 1380.4L1744.0 1379.6L1745.5 1379.1L1747.0 1378.6L1748.5 1378.2L1750.0 1377.9L1751.5 1377.8L1753.0 1377.8L1754.5 1377.9L1756.0 1378.0L1757.5 1378.1L1759.0 1378.2L1760.5 1378.2L1762.0 1378.1L1763.5 1378.1L1765.0 1378.0L1766.5 1377.9L1768.0 1377.8L1769.5 1377.6L1771.0 1377.3L1772.5 1376.9L1774.0 1376.5L1775.5 1375.9L1777.0 1374.9L1778.5 1374.1L1780.0 1373.6L1781.5 1373.7L1783.0 1373.8L1784.5 1374.1L1786.0 1375.2L1787.5 1377.0L1789.0 1378.7L1790.5 1380.3L1792.0 1381.9L1793.5 1383.9L1795.0 1386.3L1796.5 1388.3L1798.0 1389.4L1799.5 1390.3L1801.0 1390.9L1802.5 1391.0L1804.0 1390.9L1805.5 1390.8L1807.0 1390.6L1808.5 1390.3L1810.0 1390.0L1811.5 1389.1L1813.0 1388.2L1814.5 1387.5L1816.0 1387.1L1817.5 1386.7L1819.0 1386.5L1820.5 1386.5L1822.0 1386.9L1823.5 1387.5L1825.0 1388.2L1826.5 1388.9L1828.0 1389.8L1829.5 1390.8L1831.0 1391.5L1832.5 1391.6L1834.0 1391.6L1835.5 1391.5L1837.0 1391.3L1838.5 1391.2L1840.0 1391.1L1841.5 1390.9L1843.0 1390.8L1844.5 1390.7L1846.0 1390.6L1847.5 1390.4L1849.0 1390.1L1850.5 1389.6L1852.0 1388.7L1853.5 1387.8L1855.0 1386.7L1856.5 1385.6L1858.0 1384.3L1859.5 1382.8L1861.0 1381.3L1862.5 1379.8L1864.0 1378.2L1865.5 1376.2L1867.0 1373.1L1868.5 1368.2L1870.0 1364.0L1871.5 1360.4L1873.0 1355.0L1874.5 1348.0L1875.5 1342.4L1877.0 1350.0L1878.5 1356.5L1880.0 1361.7L1881.5 1365.7L1883.0 1369.1L1884.5 1372.4L1886.0 1375.3L1887.5 1376.3L1889.0 1376.7L1890.5 1376.9L1892.0 1377.1L1893.5 1377.4L1895.0 1377.5L1896.5 1377.7L1898.0 1377.9L1899.5 1378.1L1901.0 1378.3L1902.5 1378.6L1904.0 1378.9L1905.5 1379.2L1907.0 1379.2L1908.5 1379.1L1910.0 1378.9L1911.5 1378.7L1913.0 1378.6L1914.5 1379.1L1916.0 1380.0L1917.5 1380.9L1919.0 1381.3L1920.5 1381.3L1922.0 1381.3L1923.5 1381.3L1925.0 1381.3L1926.5 1380.6L1928.0 1378.5L1929.5 1375.8L1931.0 1370.9L1932.5 1366.7L1934.0 1364.9L1935.5 1363.6L1937.0 1363.3L1938.5 1363.3L1940.0 1363.3L1941.5 1363.3L1943.0 1363.6L1944.5 1364.8L1946.0 1366.1L1947.5 1367.2L1949.0 1368.3L1950.5 1369.2L1952.0 1369.5L1953.5 1368.6L1955.0 1367.3L1956.5 1366.8L1958.0 1367.1L1959.5 1367.8L1961.0 1368.6L1962.5 1369.6L1964.0 1371.2L1965.5 1372.9L1967.0 1374.4L1968.5 1376.0L1970.0 1377.6L1971.5 1379.0L1973.0 1380.1L1974.5 1381.1L1976.0 1381.9L1977.5 1382.5L1979.0 1383.0L1980.5 1383.4L1982.0 1383.8L1983.5 1384.3L1985.0 1384.7L1986.5 1385.0L1988.0 1385.0L1989.5 1384.6L1991.0 1383.9L1992.5 1382.9L1994.0 1381.7L1995.5 1380.2L1997.0 1377.9L1998.5 1374.9L2000.0 1371.1L2001.5 1365.7L2003.0 1359.6L2004.5 1351.7L2006.0 1337.5L2007.5 1322.0L2009.0 1298.8L2010.5 1276.1L2012.0 1253.6L2013.5 1233.7L2015.0 1220.5L2016.5 1211.2L2017.2 1208.8L2018.7 1217.6L2020.2 1227.5L2021.7 1238.2L2023.2 1250.3L2024.7 1265.1L2026.2 1278.8L2027.7 1293.5L2029.2 1308.9L2030.7 1323.7L2032.2 1334.9L2033.7 1344.6L2035.2 1352.9L2036.7 1359.1L2038.2 1363.8L2039.7 1366.7L2041.2 1368.9L2042.7 1370.7L2044.2 1372.5L2045.7 1374.2L2047.2 1375.8L2048.7 1377.1L2050.2 1378.0L2051.7 1378.8L2053.2 1379.5L2054.7 1380.1L2056.2 1380.6L2057.7 1381.1L2059.2 1381.4L2060.7 1381.6L2062.2 1381.9L2063.7 1382.1L2065.2 1382.3L2066.7 1382.6L2068.2 1382.9L2069.7 1383.3L2071.2 1383.7L2072.7 1384.2L2074.2 1384.9L2075.7 1386.1L2077.2 1387.7L2078.7 1389.1L2080.2 1390.1L2081.7 1390.9L2083.2 1391.5L2084.7 1391.9L2086.2 1391.9L2087.7 1391.9L2089.0 1391.9"/>
</g>
<path fill="#000" fill-rule="evenodd" d="M181.0 13.95H2096.0V1434.8H181.0ZM188.9 21.8H2089.1V1428.1H188.9Z"/>
<g fill="#000">
<rect x="317.35" y="1402.0" width="7.9" height="30.1" rx="2.4"/>
<rect x="658.00" y="1402.0" width="7.9" height="30.1" rx="2.4"/>
<rect x="998.65" y="1402.0" width="7.9" height="30.1" rx="2.4"/>
<rect x="1339.30" y="1402.0" width="7.9" height="30.1" rx="2.4"/>
<rect x="1679.95" y="1402.0" width="7.9" height="30.1" rx="2.4"/>
<rect x="2020.60" y="1402.0" width="7.9" height="30.1" rx="2.4"/>
<rect x="487.68" y="1415.0" width="7.9" height="17.1" rx="2.4"/>
<rect x="828.33" y="1415.0" width="7.9" height="17.1" rx="2.4"/>
<rect x="1168.97" y="1415.0" width="7.9" height="17.1" rx="2.4"/>
<rect x="1509.62" y="1415.0" width="7.9" height="17.1" rx="2.4"/>
<rect x="1850.28" y="1415.0" width="7.9" height="17.1" rx="2.4"/>
</g>
<g fill="#000">
<path d="M627.4 59.0L655.9 87.5L627.4 116.0L598.9 87.5Z"/>
<path d="M627.4 144.1L658.1 198.8L596.6 198.8Z"/>
<circle cx="1471.3" cy="93.1" r="27.4"/>
<rect x="1444.9" y="154.4" width="52.0" height="51.6"/>
<path d="M251.0 280.3L284.0 313.3L251.0 346.3L218.0 313.3Z"/>
<path d="M317.2 266.0L350.0 324.7L284.5 324.7Z"/>
<path d="M645.2 315.1L678.0 373.8L612.5 373.8Z"/>
<path d="M692.5 224.1L725.2 282.8L659.7 282.8Z"/>
<path d="M936.3 316.2L969.1 374.9L903.6 374.9Z"/>
<path d="M1095.0 327.9L1128.0 360.9L1095.0 393.9L1062.0 360.9Z"/>
<rect x="1219.9" y="257.1" width="52.3" height="51.0"/>
<path d="M1309.8 254.9L1342.6 313.6L1277.1 313.6Z"/>
<rect x="1392.2" y="264.3" width="52.3" height="51.0"/>
<path d="M1481.0 234.8L1514.0 267.8L1481.0 300.8L1448.0 267.8Z"/>
<rect x="1698.6" y="341.1" width="52.3" height="51.0"/>
<rect x="1895.8" y="306.8" width="52.3" height="51.0"/>
<path d="M2021.1 281.3L2054.1 314.3L2021.1 347.3L1988.1 314.3Z"/>
<path d="M253.2 594.3L286.2 627.3L253.2 660.3L220.2 627.3Z"/>
<path d="M321.2 553.2L353.9 611.9L288.4 611.9Z"/>
<path d="M641.3 625.9L674.0 684.6L608.5 684.6Z"/>
<path d="M694.6 514.5L727.4 573.2L661.9 573.2Z"/>
<path d="M929.5 618.0L962.3 676.7L896.8 676.7Z"/>
<path d="M1094.3 622.2L1127.3 655.2L1094.3 688.2L1061.3 655.2Z"/>
<rect x="1216.7" y="560.7" width="52.3" height="51.0"/>
<path d="M1317.7 552.8L1350.4 611.5L1284.9 611.5Z"/>
<rect x="1387.9" y="566.8" width="52.3" height="51.0"/>
<path d="M1477.0 500.5L1510.0 533.5L1477.0 566.5L1444.0 533.5Z"/>
<rect x="1702.9" y="651.1" width="52.3" height="51.0"/>
<rect x="1895.0" y="625.7" width="52.3" height="51.0"/>
<path d="M2024.0 553.1L2057.0 586.1L2024.0 619.1L1991.0 586.1Z"/>
<path d="M254.9 860.0L287.9 893.0L254.9 926.0L221.9 893.0Z"/>
<path d="M322.3 850.0L355.0 908.7L289.5 908.7Z"/>
<path d="M644.5 904.1L677.3 962.8L611.8 962.8Z"/>
<path d="M698.2 795.2L731.0 853.9L665.5 853.9Z"/>
<path d="M934.6 912.0L967.3 970.7L901.8 970.7Z"/>
<path d="M1102.1 895.1L1135.1 928.1L1102.1 961.1L1069.1 928.1Z"/>
<circle cx="1152.3" cy="968.2" r="29.0"/>
<rect x="1219.9" y="899.1" width="52.3" height="51.0"/>
<path d="M1320.5 859.3L1353.3 918.0L1287.8 918.0Z"/>
<rect x="1387.9" y="886.9" width="52.3" height="51.0"/>
<circle cx="1444.8" cy="953.8" r="29.0"/>
<path d="M1477.0 750.0L1510.0 783.0L1477.0 816.0L1444.0 783.0Z"/>
<rect x="1708.9" y="936.9" width="52.3" height="51.0"/>
<rect x="1892.2" y="925.1" width="52.3" height="51.0"/>
<path d="M2024.0 834.2L2057.0 867.2L2024.0 900.2L1991.0 867.2Z"/>
<path d="M254.2 1210.4L287.2 1243.4L254.2 1276.4L221.2 1243.4Z"/>
<path d="M326.3 1242.0L359.1 1300.7L293.6 1300.7Z"/>
<path d="M641.5 1294.0L674.3 1352.7L608.8 1352.7Z"/>
<path d="M687.5 1200.0L720.2 1258.7L654.7 1258.7Z"/>
<path d="M936.3 1284.0L969.0 1342.7L903.5 1342.7Z"/>
<path d="M1095.3 1221.5L1128.3 1254.5L1095.3 1287.5L1062.3 1254.5Z"/>
<circle cx="1149.9" cy="1329.2" r="29.0"/>
<circle cx="1280.2" cy="1318.4" r="29.0"/>
<path d="M1309.6 1235.1L1342.4 1293.8L1276.9 1293.8Z"/>
<circle cx="1428.1" cy="1264.9" r="29.0"/>
<path d="M1477.0 1009.6L1510.0 1042.6L1477.0 1075.6L1444.0 1042.6Z"/>
<circle cx="1874.7" cy="1329.9" r="29.0"/>
<path d="M2021.2 1163.4L2054.2 1196.4L2021.2 1229.4L1988.2 1196.4Z"/>
</g>
<g fill="#000" font-family="'Liberation Serif', 'Times New Roman', serif" style="font-kerning:none;white-space:pre">
<text><tspan x="271.9" y="1529.8" font-size="96.5" letter-spacing="-0.7">20</tspan></text>
<text><tspan x="612.2" y="1529.8" font-size="96.5" letter-spacing="-0.7">25</tspan></text>
<text><tspan x="955.2" y="1529.8" font-size="96.5" letter-spacing="-0.7">30</tspan></text>
<text><tspan x="1293.9" y="1529.8" font-size="96.5" letter-spacing="-0.7">35</tspan></text>
<text><tspan x="1636.6" y="1529.8" font-size="96.5" letter-spacing="-0.7">40</tspan></text>
<text><tspan x="1974.9" y="1529.8" font-size="96.5" letter-spacing="-0.7">45</tspan></text>
<text><tspan x="1044.0" y="1660.6" font-size="102">2</tspan><tspan x="1094.3" y="1660.6" font-size="92">θ</tspan> <tspan x="1162.3" y="1660.6" font-size="106">/</tspan><tspan x="1190.5" y="1660.6" font-size="90">(</tspan><tspan x="1219.2" y="1659.6" font-size="94">°</tspan><tspan x="1256.2" y="1660.6" font-size="90">)</tspan></text>
<text transform="rotate(-90 124.3 1017.7)"><tspan x="124.3" y="1017.7" font-size="102" letter-spacing="-0.6">Intensity/.a.u</tspan></text>
<text><tspan x="2117.0" y="466.6" font-size="88" letter-spacing="-0.66">6% BaO</tspan></text>
<text><tspan x="2114.3" y="764.0" font-size="88" letter-spacing="-0.64">4% BaO</tspan></text>
<text><tspan x="2122.9" y="1034.0" font-size="88" letter-spacing="-0.29">2% BaO</tspan></text>
<text><tspan x="2116.6" y="1391.8" font-size="88" letter-spacing="-0.46">BaO-Free</tspan></text>
<text><tspan x="675.7" y="114.3" font-size="68.5" letter-spacing="-8.5">MA</tspan>  <tspan x="808.4" y="114.3" font-size="68.5" letter-spacing="-2.19">01-073-2210</tspan></text>
<text><tspan x="678.8" y="199.3" font-size="68.5" letter-spacing="-5.55">CA</tspan><tspan x="766.3" y="199.3" font-size="47">2</tspan> <tspan x="805.8" y="199.3" font-size="68.5" letter-spacing="-2.29">00-023- 1037</tspan></text>
<text><tspan x="1522.8" y="119.9" font-size="68.5" letter-spacing="-5.25">CA</tspan><tspan x="1612.6" y="119.9" font-size="47">6</tspan>    <tspan x="1720.1" y="119.9" font-size="68.5" letter-spacing="-2.33">01-076-0665</tspan></text>
<text><tspan x="1520.0" y="206.3" font-size="68.5" letter-spacing="-3.49">BAM</tspan>   <tspan x="1723.3" y="206.3" font-size="68.5" letter-spacing="-2.4">01-089-4665</tspan></text>
</g>
</svg>
</body></html>
